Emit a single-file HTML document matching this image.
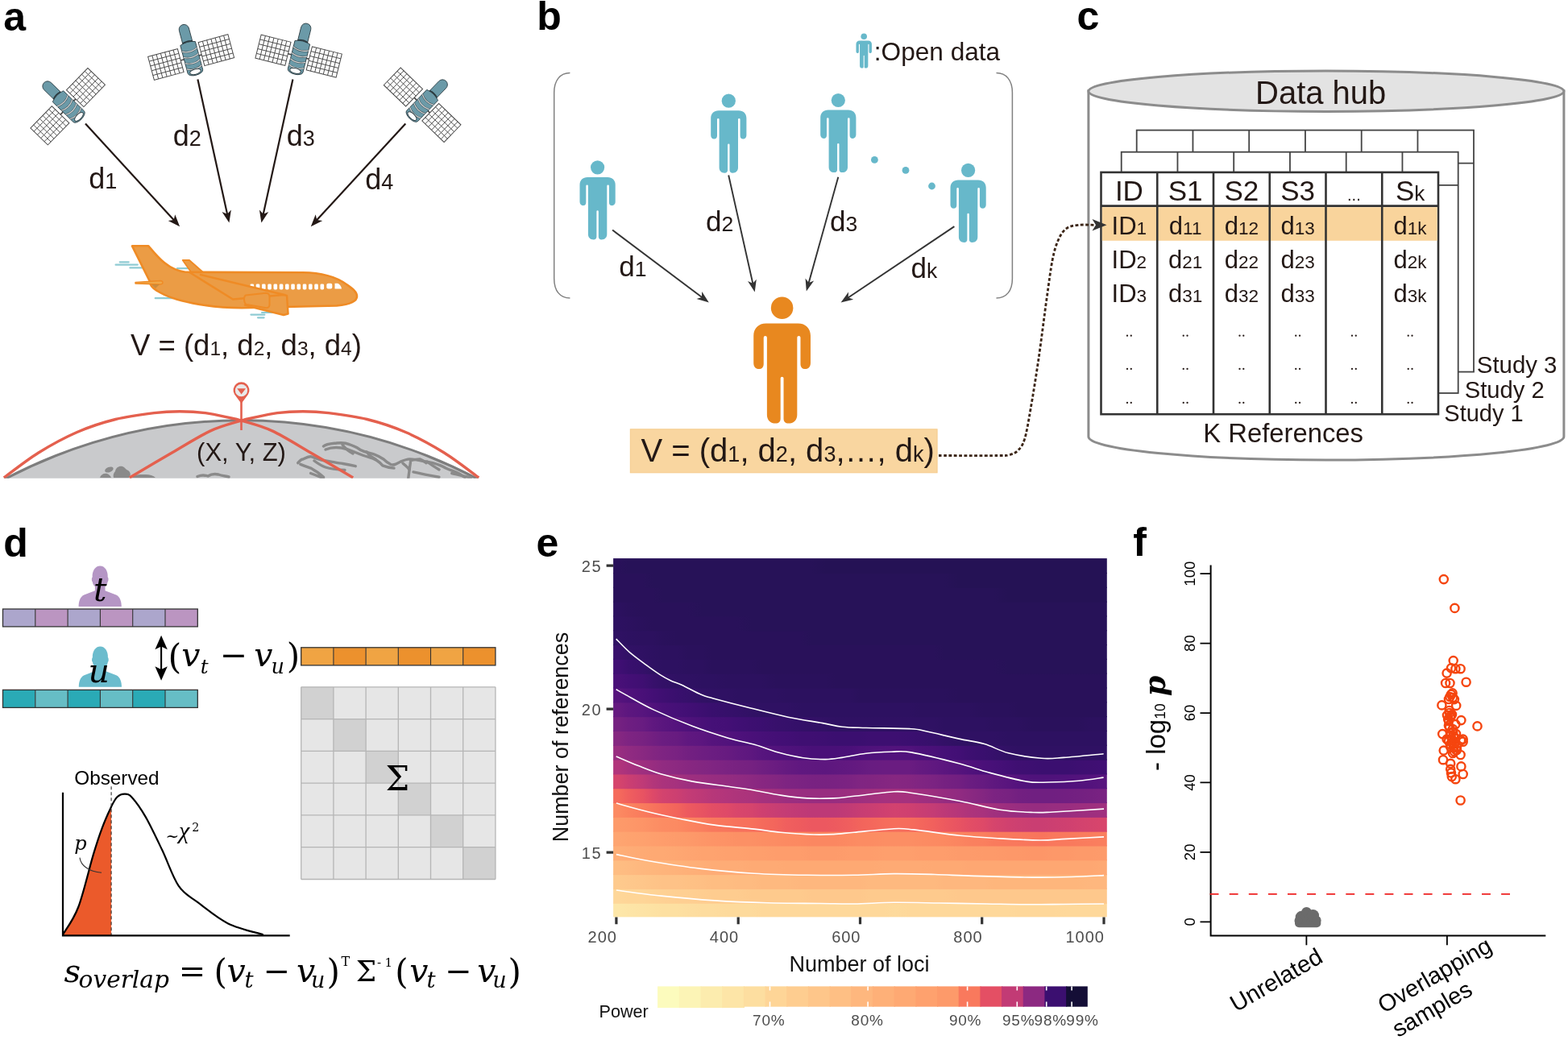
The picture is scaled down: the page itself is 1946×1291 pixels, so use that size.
<!DOCTYPE html>
<html><head><meta charset="utf-8"><title>Figure</title>
<style>html,body{margin:0;padding:0;background:#fff;}body{width:1946px;height:1291px;overflow:hidden;}svg{display:block;}</style>
</head><body>
<svg width="1946" height="1291" viewBox="0 0 1946 1291">
<defs>
<g id="sat"><line x1="-16" y1="0.5" x2="15" y2="0.5" stroke="#444" stroke-width="1.6"/><rect x="-52" y="-14.5" width="38" height="30" fill="#fff" stroke="#4a4a4a" stroke-width="1"/><path d="M-46.57,-14.5V15.5M-41.14,-14.5V15.5M-35.71,-14.5V15.5M-30.29,-14.5V15.5M-24.86,-14.5V15.5M-19.43,-14.5V15.5M-52,-8.5H-14M-52,-2.5H-14M-52,3.5H-14M-52,9.5H-14" stroke="#4a4a4a" stroke-width="0.9" fill="none"/><rect x="13" y="-15.5" width="38" height="30" fill="#fff" stroke="#4a4a4a" stroke-width="1"/><path d="M18.43,-15.5V14.5M23.86,-15.5V14.5M29.29,-15.5V14.5M34.71,-15.5V14.5M40.14,-15.5V14.5M45.57,-15.5V14.5M13,-9.5H51M13,-3.5H51M13,2.5H51M13,8.5H51" stroke="#4a4a4a" stroke-width="0.9" fill="none"/><path d="M-6.2,-18.5 V-35.5 A6.2,6.2 0 0 1 6.2,-35.5 V-18.5 Z" fill="#6b9aa8" stroke="#34454b" stroke-width="0.9"/><path d="M-9.6,-17.5 Q0,-21 9.6,-17.5 V18.5 A9.6,4.6 0 0 1 -9.6,18.5 Z" fill="#6b9aa8" stroke="#34454b" stroke-width="0.9"/><path d="M-6.4,-19 Q0,-21.5 6.4,-19" fill="none" stroke="#2c3a3f" stroke-width="1.6"/><path d="M-9.6,-9.5 Q0,-4.5 9.6,-9.5" fill="none" stroke="#3e5056" stroke-width="2.3"/><path d="M-9.6,-9.5 Q0,-4.5 9.6,-9.5" fill="none" stroke="#d4d4d4" stroke-width="1.2"/><path d="M-9.6,-2 Q0,3 9.6,-2" fill="none" stroke="#3e5056" stroke-width="2.3"/><path d="M-9.6,-2 Q0,3 9.6,-2" fill="none" stroke="#d4d4d4" stroke-width="1.2"/><path d="M-9.6,5.5 Q0,10.5 9.6,5.5" fill="none" stroke="#3e5056" stroke-width="2.3"/><path d="M-9.6,5.5 Q0,10.5 9.6,5.5" fill="none" stroke="#d4d4d4" stroke-width="1.2"/><path d="M-9.6,13 Q0,18 9.6,13" fill="none" stroke="#3e5056" stroke-width="2.3"/><path d="M-9.6,13 Q0,18 9.6,13" fill="none" stroke="#d4d4d4" stroke-width="1.2"/><ellipse cx="0" cy="18.8" rx="7" ry="3.2" fill="#fff" stroke="#34454b" stroke-width="1"/></g>
<clipPath id="globeclip"><rect x="0" y="440" width="640" height="153.8"/></clipPath>
<g id="person"><circle cx="0" cy="8.6" r="8.6"/><path d="M-12.5,20.7 H12.5 C18.2,20.7 22.1,24.5 22.1,30.2 V51.4 C22.1,54 20.5,56 18,56 C15.7,56 14.3,54.5 14.3,52 V31.6 A1.3,1.3 0 0 0 11.7,31.6 V91.5 C11.7,95.5 9,98.2 5,98.2 C2.6,98.2 1.2,96.8 1.2,94.5 V63.2 A1.2,1.2 0 0 0 -1.2,63.2 V94.5 C-1.2,96.8 -2.6,98.2 -5,98.2 C-9,98.2 -11.7,95.5 -11.7,91.5 V31.6 A1.3,1.3 0 0 0 -14.3,31.6 V52 C-14.3,54.5 -15.7,56 -18,56 C-20.5,56 -22.1,54 -22.1,51.4 V30.2 C-22.1,24.5 -18.2,20.7 -12.5,20.7 Z"/></g>
<g id="bust"><path d="M-26.6,0 C-26.6,-6 -25,-12 -20,-14.5 L-6.3,-19.6 L-6.3,-25 C-8,-26 -9,-28 -9.5,-31 C-10.6,-31.5 -10.6,-36 -9.5,-36.5 C-10,-44 -6,-50.3 0,-50.3 C6,-50.3 10,-44 9.5,-36.5 C10.6,-36 10.6,-31.5 9.5,-31 C9,-28 8,-26 6.3,-25 L6.3,-19.6 L20,-14.5 C25,-12 26.6,-6 26.6,0 Z"/></g>
<linearGradient id="hg0" gradientUnits="objectBoundingBox" x1="0" y1="0" x2="1" y2="0"><stop offset="0.01" stop-color="#fde7a9"/><stop offset="0.03" stop-color="#fde5a7"/><stop offset="0.06" stop-color="#fde3a5"/><stop offset="0.08" stop-color="#fde2a3"/><stop offset="0.1" stop-color="#fde0a1"/><stop offset="0.13" stop-color="#fde0a1"/><stop offset="0.15" stop-color="#fddea0"/><stop offset="0.18" stop-color="#fddc9e"/><stop offset="0.2" stop-color="#fddc9e"/><stop offset="0.23" stop-color="#fdda9c"/><stop offset="0.25" stop-color="#fdda9c"/><stop offset="0.28" stop-color="#fdda9c"/><stop offset="0.3" stop-color="#fed89a"/><stop offset="0.33" stop-color="#fed89a"/><stop offset="0.35" stop-color="#fed89a"/><stop offset="0.38" stop-color="#fed89a"/><stop offset="0.4" stop-color="#fed89a"/><stop offset="0.43" stop-color="#fed89a"/><stop offset="0.45" stop-color="#fed89a"/><stop offset="0.48" stop-color="#fed89a"/><stop offset="0.5" stop-color="#fed89a"/><stop offset="0.52" stop-color="#fed89a"/><stop offset="0.55" stop-color="#fed89a"/><stop offset="0.57" stop-color="#fdda9c"/><stop offset="0.6" stop-color="#fed89a"/><stop offset="0.62" stop-color="#fed89a"/><stop offset="0.65" stop-color="#fed89a"/><stop offset="0.67" stop-color="#fed89a"/><stop offset="0.7" stop-color="#fed89a"/><stop offset="0.72" stop-color="#fed89a"/><stop offset="0.75" stop-color="#fed89a"/><stop offset="0.77" stop-color="#fed89a"/><stop offset="0.8" stop-color="#fed89a"/><stop offset="0.82" stop-color="#fed799"/><stop offset="0.85" stop-color="#fed799"/><stop offset="0.87" stop-color="#fed799"/><stop offset="0.89" stop-color="#fed799"/><stop offset="0.92" stop-color="#fed89a"/><stop offset="0.94" stop-color="#fed89a"/><stop offset="0.97" stop-color="#fed89a"/><stop offset="0.99" stop-color="#fed89a"/></linearGradient>
<linearGradient id="hg1" gradientUnits="objectBoundingBox" x1="0" y1="0" x2="1" y2="0"><stop offset="0.01" stop-color="#fed799"/><stop offset="0.03" stop-color="#fed597"/><stop offset="0.06" stop-color="#fed597"/><stop offset="0.08" stop-color="#fed395"/><stop offset="0.1" stop-color="#fed194"/><stop offset="0.13" stop-color="#fecf92"/><stop offset="0.15" stop-color="#fecf92"/><stop offset="0.18" stop-color="#fecd90"/><stop offset="0.2" stop-color="#fecc8f"/><stop offset="0.23" stop-color="#fecc8f"/><stop offset="0.25" stop-color="#fecc8f"/><stop offset="0.28" stop-color="#feca8d"/><stop offset="0.3" stop-color="#feca8d"/><stop offset="0.33" stop-color="#feca8d"/><stop offset="0.35" stop-color="#feca8d"/><stop offset="0.38" stop-color="#feca8d"/><stop offset="0.4" stop-color="#fec88c"/><stop offset="0.43" stop-color="#fec88c"/><stop offset="0.45" stop-color="#fec88c"/><stop offset="0.48" stop-color="#fec88c"/><stop offset="0.5" stop-color="#fec88c"/><stop offset="0.52" stop-color="#feca8d"/><stop offset="0.55" stop-color="#feca8d"/><stop offset="0.57" stop-color="#feca8d"/><stop offset="0.6" stop-color="#feca8d"/><stop offset="0.62" stop-color="#feca8d"/><stop offset="0.65" stop-color="#feca8d"/><stop offset="0.67" stop-color="#feca8d"/><stop offset="0.7" stop-color="#fec88c"/><stop offset="0.72" stop-color="#fec88c"/><stop offset="0.75" stop-color="#fec88c"/><stop offset="0.77" stop-color="#fec88c"/><stop offset="0.8" stop-color="#fec88c"/><stop offset="0.82" stop-color="#fec88c"/><stop offset="0.85" stop-color="#fec88c"/><stop offset="0.87" stop-color="#fec88c"/><stop offset="0.89" stop-color="#fec88c"/><stop offset="0.92" stop-color="#fec88c"/><stop offset="0.94" stop-color="#fec88c"/><stop offset="0.97" stop-color="#fec88c"/><stop offset="0.99" stop-color="#fec88c"/></linearGradient>
<linearGradient id="hg2" gradientUnits="objectBoundingBox" x1="0" y1="0" x2="1" y2="0"><stop offset="0.01" stop-color="#feca8d"/><stop offset="0.03" stop-color="#fec88c"/><stop offset="0.06" stop-color="#fec68a"/><stop offset="0.08" stop-color="#fec488"/><stop offset="0.1" stop-color="#fec287"/><stop offset="0.13" stop-color="#fec287"/><stop offset="0.15" stop-color="#fec185"/><stop offset="0.18" stop-color="#febf84"/><stop offset="0.2" stop-color="#febd82"/><stop offset="0.23" stop-color="#febd82"/><stop offset="0.25" stop-color="#febb81"/><stop offset="0.28" stop-color="#febb81"/><stop offset="0.3" stop-color="#feb97f"/><stop offset="0.33" stop-color="#feb97f"/><stop offset="0.35" stop-color="#feb97f"/><stop offset="0.38" stop-color="#feb77e"/><stop offset="0.4" stop-color="#feb77e"/><stop offset="0.43" stop-color="#feb77e"/><stop offset="0.45" stop-color="#feb77e"/><stop offset="0.48" stop-color="#feb77e"/><stop offset="0.5" stop-color="#feb77e"/><stop offset="0.52" stop-color="#feb97f"/><stop offset="0.55" stop-color="#feb97f"/><stop offset="0.57" stop-color="#feb97f"/><stop offset="0.6" stop-color="#feb97f"/><stop offset="0.62" stop-color="#feb97f"/><stop offset="0.65" stop-color="#feb97f"/><stop offset="0.67" stop-color="#feb77e"/><stop offset="0.7" stop-color="#feb77e"/><stop offset="0.72" stop-color="#feb77e"/><stop offset="0.75" stop-color="#feb77e"/><stop offset="0.77" stop-color="#feb67c"/><stop offset="0.8" stop-color="#feb67c"/><stop offset="0.82" stop-color="#feb67c"/><stop offset="0.85" stop-color="#feb67c"/><stop offset="0.87" stop-color="#feb67c"/><stop offset="0.89" stop-color="#feb67c"/><stop offset="0.92" stop-color="#feb67c"/><stop offset="0.94" stop-color="#feb67c"/><stop offset="0.97" stop-color="#feb77e"/><stop offset="0.99" stop-color="#feb77e"/></linearGradient>
<linearGradient id="hg3" gradientUnits="objectBoundingBox" x1="0" y1="0" x2="1" y2="0"><stop offset="0.01" stop-color="#febd82"/><stop offset="0.03" stop-color="#febb81"/><stop offset="0.06" stop-color="#feb77e"/><stop offset="0.08" stop-color="#feb67c"/><stop offset="0.1" stop-color="#feb47b"/><stop offset="0.13" stop-color="#feb27a"/><stop offset="0.15" stop-color="#feb078"/><stop offset="0.18" stop-color="#feae77"/><stop offset="0.2" stop-color="#feac76"/><stop offset="0.23" stop-color="#feac76"/><stop offset="0.25" stop-color="#feac76"/><stop offset="0.28" stop-color="#feaa74"/><stop offset="0.3" stop-color="#feaa74"/><stop offset="0.33" stop-color="#feaa74"/><stop offset="0.35" stop-color="#fea973"/><stop offset="0.38" stop-color="#fea973"/><stop offset="0.4" stop-color="#fea973"/><stop offset="0.43" stop-color="#fea973"/><stop offset="0.45" stop-color="#fea973"/><stop offset="0.48" stop-color="#fea973"/><stop offset="0.5" stop-color="#fea973"/><stop offset="0.52" stop-color="#fea973"/><stop offset="0.55" stop-color="#feaa74"/><stop offset="0.57" stop-color="#feaa74"/><stop offset="0.6" stop-color="#feaa74"/><stop offset="0.62" stop-color="#feaa74"/><stop offset="0.65" stop-color="#fea973"/><stop offset="0.67" stop-color="#fea973"/><stop offset="0.7" stop-color="#fea973"/><stop offset="0.72" stop-color="#fea772"/><stop offset="0.75" stop-color="#fea772"/><stop offset="0.77" stop-color="#fea772"/><stop offset="0.8" stop-color="#fea772"/><stop offset="0.82" stop-color="#fea772"/><stop offset="0.85" stop-color="#fea772"/><stop offset="0.87" stop-color="#fea772"/><stop offset="0.89" stop-color="#fea772"/><stop offset="0.92" stop-color="#fea772"/><stop offset="0.94" stop-color="#fea772"/><stop offset="0.97" stop-color="#fea772"/><stop offset="0.99" stop-color="#fea973"/></linearGradient>
<linearGradient id="hg4" gradientUnits="objectBoundingBox" x1="0" y1="0" x2="1" y2="0"><stop offset="0.01" stop-color="#feae77"/><stop offset="0.03" stop-color="#feac76"/><stop offset="0.06" stop-color="#feaa74"/><stop offset="0.08" stop-color="#fea973"/><stop offset="0.1" stop-color="#fea973"/><stop offset="0.13" stop-color="#fea772"/><stop offset="0.15" stop-color="#fea571"/><stop offset="0.18" stop-color="#fea36f"/><stop offset="0.2" stop-color="#fea36f"/><stop offset="0.23" stop-color="#fea16e"/><stop offset="0.25" stop-color="#fea16e"/><stop offset="0.28" stop-color="#fe9f6d"/><stop offset="0.3" stop-color="#fe9f6d"/><stop offset="0.33" stop-color="#fe9d6c"/><stop offset="0.35" stop-color="#fe9d6c"/><stop offset="0.38" stop-color="#fe9d6c"/><stop offset="0.4" stop-color="#fd9b6b"/><stop offset="0.43" stop-color="#fd9b6b"/><stop offset="0.45" stop-color="#fd9b6b"/><stop offset="0.48" stop-color="#fe9d6c"/><stop offset="0.5" stop-color="#fe9d6c"/><stop offset="0.52" stop-color="#fe9d6c"/><stop offset="0.55" stop-color="#fe9f6d"/><stop offset="0.57" stop-color="#fe9f6d"/><stop offset="0.6" stop-color="#fe9f6d"/><stop offset="0.62" stop-color="#fe9d6c"/><stop offset="0.65" stop-color="#fe9d6c"/><stop offset="0.67" stop-color="#fe9d6c"/><stop offset="0.7" stop-color="#fd9b6b"/><stop offset="0.72" stop-color="#fd9b6b"/><stop offset="0.75" stop-color="#fd9a6a"/><stop offset="0.77" stop-color="#fd9a6a"/><stop offset="0.8" stop-color="#fd9869"/><stop offset="0.82" stop-color="#fd9869"/><stop offset="0.85" stop-color="#fd9668"/><stop offset="0.87" stop-color="#fd9668"/><stop offset="0.89" stop-color="#fd9869"/><stop offset="0.92" stop-color="#fd9869"/><stop offset="0.94" stop-color="#fd9a6a"/><stop offset="0.97" stop-color="#fd9a6a"/><stop offset="0.99" stop-color="#fd9b6b"/></linearGradient>
<linearGradient id="hg5" gradientUnits="objectBoundingBox" x1="0" y1="0" x2="1" y2="0"><stop offset="0.01" stop-color="#fea571"/><stop offset="0.03" stop-color="#fea36f"/><stop offset="0.06" stop-color="#fea16e"/><stop offset="0.08" stop-color="#fe9f6d"/><stop offset="0.1" stop-color="#fe9d6c"/><stop offset="0.13" stop-color="#fd9b6b"/><stop offset="0.15" stop-color="#fd9a6a"/><stop offset="0.18" stop-color="#fd9668"/><stop offset="0.2" stop-color="#fd9467"/><stop offset="0.23" stop-color="#fd9266"/><stop offset="0.25" stop-color="#fc9065"/><stop offset="0.28" stop-color="#fc9065"/><stop offset="0.3" stop-color="#fc8e64"/><stop offset="0.33" stop-color="#fc8c63"/><stop offset="0.35" stop-color="#fc8a62"/><stop offset="0.38" stop-color="#fc8961"/><stop offset="0.4" stop-color="#fb8761"/><stop offset="0.43" stop-color="#fb8761"/><stop offset="0.45" stop-color="#fb8761"/><stop offset="0.48" stop-color="#fc8a62"/><stop offset="0.5" stop-color="#fc8c63"/><stop offset="0.52" stop-color="#fc8c63"/><stop offset="0.55" stop-color="#fc8e64"/><stop offset="0.57" stop-color="#fc8e64"/><stop offset="0.6" stop-color="#fc8e64"/><stop offset="0.62" stop-color="#fc8c63"/><stop offset="0.65" stop-color="#fc8a62"/><stop offset="0.67" stop-color="#fc8961"/><stop offset="0.7" stop-color="#fb8560"/><stop offset="0.72" stop-color="#fa815f"/><stop offset="0.75" stop-color="#fa7f5e"/><stop offset="0.77" stop-color="#f97b5d"/><stop offset="0.8" stop-color="#f9795d"/><stop offset="0.82" stop-color="#f9785d"/><stop offset="0.85" stop-color="#f8765c"/><stop offset="0.87" stop-color="#f8745c"/><stop offset="0.89" stop-color="#f9785d"/><stop offset="0.92" stop-color="#f9795d"/><stop offset="0.94" stop-color="#f97b5d"/><stop offset="0.97" stop-color="#fa7d5e"/><stop offset="0.99" stop-color="#fa7f5e"/></linearGradient>
<linearGradient id="hg6" gradientUnits="objectBoundingBox" x1="0" y1="0" x2="1" y2="0"><stop offset="0.01" stop-color="#fd9a6a"/><stop offset="0.03" stop-color="#fd9869"/><stop offset="0.06" stop-color="#fd9467"/><stop offset="0.08" stop-color="#fc9065"/><stop offset="0.1" stop-color="#fc8c63"/><stop offset="0.13" stop-color="#fc8a62"/><stop offset="0.15" stop-color="#fb8560"/><stop offset="0.18" stop-color="#fa7f5e"/><stop offset="0.2" stop-color="#f9795d"/><stop offset="0.23" stop-color="#f8765c"/><stop offset="0.25" stop-color="#f7725c"/><stop offset="0.28" stop-color="#f7705c"/><stop offset="0.3" stop-color="#f56b5c"/><stop offset="0.33" stop-color="#f3655c"/><stop offset="0.35" stop-color="#f05f5e"/><stop offset="0.38" stop-color="#ee5b5e"/><stop offset="0.4" stop-color="#ec5860"/><stop offset="0.43" stop-color="#ec5860"/><stop offset="0.45" stop-color="#ed5a5f"/><stop offset="0.48" stop-color="#f05f5e"/><stop offset="0.5" stop-color="#f2645c"/><stop offset="0.52" stop-color="#f4675c"/><stop offset="0.55" stop-color="#f66c5c"/><stop offset="0.57" stop-color="#f66e5c"/><stop offset="0.6" stop-color="#f66c5c"/><stop offset="0.62" stop-color="#f4675c"/><stop offset="0.65" stop-color="#f1605d"/><stop offset="0.67" stop-color="#ed5a5f"/><stop offset="0.7" stop-color="#e85362"/><stop offset="0.72" stop-color="#e34e65"/><stop offset="0.75" stop-color="#de4968"/><stop offset="0.77" stop-color="#d6456c"/><stop offset="0.8" stop-color="#d0416f"/><stop offset="0.82" stop-color="#cd4071"/><stop offset="0.85" stop-color="#ca3e72"/><stop offset="0.87" stop-color="#ca3e72"/><stop offset="0.89" stop-color="#cc3f71"/><stop offset="0.92" stop-color="#cf4070"/><stop offset="0.94" stop-color="#d2426f"/><stop offset="0.97" stop-color="#d5446d"/><stop offset="0.99" stop-color="#d8456c"/></linearGradient>
<linearGradient id="hg7" gradientUnits="objectBoundingBox" x1="0" y1="0" x2="1" y2="0"><stop offset="0.01" stop-color="#fc8a62"/><stop offset="0.03" stop-color="#fb835f"/><stop offset="0.06" stop-color="#f97b5d"/><stop offset="0.08" stop-color="#f8745c"/><stop offset="0.1" stop-color="#f66c5c"/><stop offset="0.13" stop-color="#f2645c"/><stop offset="0.15" stop-color="#ed5a5f"/><stop offset="0.18" stop-color="#e85362"/><stop offset="0.2" stop-color="#e34e65"/><stop offset="0.23" stop-color="#df4a68"/><stop offset="0.25" stop-color="#d9466b"/><stop offset="0.28" stop-color="#d5446d"/><stop offset="0.3" stop-color="#cf4070"/><stop offset="0.33" stop-color="#c83e73"/><stop offset="0.35" stop-color="#c43c75"/><stop offset="0.38" stop-color="#c03a76"/><stop offset="0.4" stop-color="#bd3977"/><stop offset="0.43" stop-color="#bd3977"/><stop offset="0.45" stop-color="#bd3977"/><stop offset="0.48" stop-color="#c23b75"/><stop offset="0.5" stop-color="#c73d73"/><stop offset="0.52" stop-color="#ca3e72"/><stop offset="0.55" stop-color="#cf4070"/><stop offset="0.57" stop-color="#d2426f"/><stop offset="0.6" stop-color="#cf4070"/><stop offset="0.62" stop-color="#ca3e72"/><stop offset="0.65" stop-color="#c43c75"/><stop offset="0.67" stop-color="#bd3977"/><stop offset="0.7" stop-color="#b5367a"/><stop offset="0.72" stop-color="#ae347b"/><stop offset="0.75" stop-color="#a8327d"/><stop offset="0.77" stop-color="#a1307e"/><stop offset="0.8" stop-color="#9c2e7f"/><stop offset="0.82" stop-color="#992d80"/><stop offset="0.85" stop-color="#962c80"/><stop offset="0.87" stop-color="#962c80"/><stop offset="0.89" stop-color="#982d80"/><stop offset="0.92" stop-color="#992d80"/><stop offset="0.94" stop-color="#9c2e7f"/><stop offset="0.97" stop-color="#9e2f7f"/><stop offset="0.99" stop-color="#a02f7f"/></linearGradient>
<linearGradient id="hg8" gradientUnits="objectBoundingBox" x1="0" y1="0" x2="1" y2="0"><stop offset="0.01" stop-color="#f56b5c"/><stop offset="0.03" stop-color="#f05f5e"/><stop offset="0.06" stop-color="#e85362"/><stop offset="0.08" stop-color="#de4968"/><stop offset="0.1" stop-color="#d3436e"/><stop offset="0.13" stop-color="#cc3f71"/><stop offset="0.15" stop-color="#c43c75"/><stop offset="0.18" stop-color="#bd3977"/><stop offset="0.2" stop-color="#b73779"/><stop offset="0.23" stop-color="#b2357b"/><stop offset="0.25" stop-color="#ae347b"/><stop offset="0.28" stop-color="#ab337c"/><stop offset="0.3" stop-color="#a6317d"/><stop offset="0.33" stop-color="#a1307e"/><stop offset="0.35" stop-color="#9c2e7f"/><stop offset="0.38" stop-color="#992d80"/><stop offset="0.4" stop-color="#982d80"/><stop offset="0.43" stop-color="#982d80"/><stop offset="0.45" stop-color="#982d80"/><stop offset="0.48" stop-color="#9b2e7f"/><stop offset="0.5" stop-color="#9e2f7f"/><stop offset="0.52" stop-color="#a1307e"/><stop offset="0.55" stop-color="#a5317e"/><stop offset="0.57" stop-color="#a6317d"/><stop offset="0.6" stop-color="#a5317e"/><stop offset="0.62" stop-color="#a02f7f"/><stop offset="0.65" stop-color="#9b2e7f"/><stop offset="0.67" stop-color="#962c80"/><stop offset="0.7" stop-color="#912b81"/><stop offset="0.72" stop-color="#8b2981"/><stop offset="0.75" stop-color="#832681"/><stop offset="0.77" stop-color="#7c2382"/><stop offset="0.8" stop-color="#782281"/><stop offset="0.82" stop-color="#732081"/><stop offset="0.85" stop-color="#701f81"/><stop offset="0.87" stop-color="#701f81"/><stop offset="0.89" stop-color="#701f81"/><stop offset="0.92" stop-color="#721f81"/><stop offset="0.94" stop-color="#732081"/><stop offset="0.97" stop-color="#762181"/><stop offset="0.99" stop-color="#792282"/></linearGradient>
<linearGradient id="hg9" gradientUnits="objectBoundingBox" x1="0" y1="0" x2="1" y2="0"><stop offset="0.01" stop-color="#d6456c"/><stop offset="0.03" stop-color="#cc3f71"/><stop offset="0.06" stop-color="#bf3a77"/><stop offset="0.08" stop-color="#b3367a"/><stop offset="0.1" stop-color="#ab337c"/><stop offset="0.13" stop-color="#a5317e"/><stop offset="0.15" stop-color="#9e2f7f"/><stop offset="0.18" stop-color="#9b2e7f"/><stop offset="0.2" stop-color="#982d80"/><stop offset="0.23" stop-color="#942c80"/><stop offset="0.25" stop-color="#912b81"/><stop offset="0.28" stop-color="#8c2981"/><stop offset="0.3" stop-color="#882781"/><stop offset="0.33" stop-color="#832681"/><stop offset="0.35" stop-color="#7e2482"/><stop offset="0.38" stop-color="#7b2382"/><stop offset="0.4" stop-color="#792282"/><stop offset="0.43" stop-color="#782281"/><stop offset="0.45" stop-color="#792282"/><stop offset="0.48" stop-color="#7c2382"/><stop offset="0.5" stop-color="#802582"/><stop offset="0.52" stop-color="#812581"/><stop offset="0.55" stop-color="#842681"/><stop offset="0.57" stop-color="#862781"/><stop offset="0.6" stop-color="#842681"/><stop offset="0.62" stop-color="#802582"/><stop offset="0.65" stop-color="#7b2382"/><stop offset="0.67" stop-color="#762181"/><stop offset="0.7" stop-color="#721f81"/><stop offset="0.72" stop-color="#6b1d81"/><stop offset="0.75" stop-color="#651a80"/><stop offset="0.77" stop-color="#5f187f"/><stop offset="0.8" stop-color="#59157e"/><stop offset="0.82" stop-color="#54137d"/><stop offset="0.85" stop-color="#4f127b"/><stop offset="0.87" stop-color="#4f127b"/><stop offset="0.89" stop-color="#4f127b"/><stop offset="0.92" stop-color="#51127c"/><stop offset="0.94" stop-color="#52137c"/><stop offset="0.97" stop-color="#54137d"/><stop offset="0.99" stop-color="#57157e"/></linearGradient>
<linearGradient id="hg10" gradientUnits="objectBoundingBox" x1="0" y1="0" x2="1" y2="0"><stop offset="0.01" stop-color="#b2357b"/><stop offset="0.03" stop-color="#a8327d"/><stop offset="0.06" stop-color="#9e2f7f"/><stop offset="0.08" stop-color="#982d80"/><stop offset="0.1" stop-color="#912b81"/><stop offset="0.13" stop-color="#8c2981"/><stop offset="0.15" stop-color="#882781"/><stop offset="0.18" stop-color="#832681"/><stop offset="0.2" stop-color="#802582"/><stop offset="0.23" stop-color="#7b2382"/><stop offset="0.25" stop-color="#782281"/><stop offset="0.28" stop-color="#752181"/><stop offset="0.3" stop-color="#701f81"/><stop offset="0.33" stop-color="#6a1c81"/><stop offset="0.35" stop-color="#651a80"/><stop offset="0.38" stop-color="#601880"/><stop offset="0.4" stop-color="#5f187f"/><stop offset="0.43" stop-color="#5d177f"/><stop offset="0.45" stop-color="#5f187f"/><stop offset="0.48" stop-color="#621980"/><stop offset="0.5" stop-color="#651a80"/><stop offset="0.52" stop-color="#681c81"/><stop offset="0.55" stop-color="#6a1c81"/><stop offset="0.57" stop-color="#6a1c81"/><stop offset="0.6" stop-color="#6a1c81"/><stop offset="0.62" stop-color="#651a80"/><stop offset="0.65" stop-color="#601880"/><stop offset="0.67" stop-color="#5c167f"/><stop offset="0.7" stop-color="#56147d"/><stop offset="0.72" stop-color="#51127c"/><stop offset="0.75" stop-color="#4a1079"/><stop offset="0.77" stop-color="#471078"/><stop offset="0.8" stop-color="#420f75"/><stop offset="0.82" stop-color="#3f0f72"/><stop offset="0.85" stop-color="#3d0f71"/><stop offset="0.87" stop-color="#3b0f70"/><stop offset="0.89" stop-color="#3b0f70"/><stop offset="0.92" stop-color="#3b0f70"/><stop offset="0.94" stop-color="#3d0f71"/><stop offset="0.97" stop-color="#3f0f72"/><stop offset="0.99" stop-color="#400f74"/></linearGradient>
<linearGradient id="hg11" gradientUnits="objectBoundingBox" x1="0" y1="0" x2="1" y2="0"><stop offset="0.01" stop-color="#992d80"/><stop offset="0.03" stop-color="#912b81"/><stop offset="0.06" stop-color="#892881"/><stop offset="0.08" stop-color="#832681"/><stop offset="0.1" stop-color="#7e2482"/><stop offset="0.13" stop-color="#792282"/><stop offset="0.15" stop-color="#732081"/><stop offset="0.18" stop-color="#6e1e81"/><stop offset="0.2" stop-color="#6b1d81"/><stop offset="0.23" stop-color="#671b80"/><stop offset="0.25" stop-color="#621980"/><stop offset="0.28" stop-color="#5d177f"/><stop offset="0.3" stop-color="#57157e"/><stop offset="0.33" stop-color="#52137c"/><stop offset="0.35" stop-color="#4f127b"/><stop offset="0.38" stop-color="#4c117a"/><stop offset="0.4" stop-color="#491078"/><stop offset="0.43" stop-color="#491078"/><stop offset="0.45" stop-color="#491078"/><stop offset="0.48" stop-color="#4a1079"/><stop offset="0.5" stop-color="#4e117b"/><stop offset="0.52" stop-color="#4f127b"/><stop offset="0.55" stop-color="#51127c"/><stop offset="0.57" stop-color="#52137c"/><stop offset="0.6" stop-color="#51127c"/><stop offset="0.62" stop-color="#4c117a"/><stop offset="0.65" stop-color="#491078"/><stop offset="0.67" stop-color="#451077"/><stop offset="0.7" stop-color="#420f75"/><stop offset="0.72" stop-color="#3d0f71"/><stop offset="0.75" stop-color="#390f6e"/><stop offset="0.77" stop-color="#36106b"/><stop offset="0.8" stop-color="#311165"/><stop offset="0.82" stop-color="#2f1163"/><stop offset="0.85" stop-color="#2f1163"/><stop offset="0.87" stop-color="#2f1163"/><stop offset="0.89" stop-color="#2f1163"/><stop offset="0.92" stop-color="#2f1163"/><stop offset="0.94" stop-color="#2f1163"/><stop offset="0.97" stop-color="#2f1163"/><stop offset="0.99" stop-color="#2f1163"/></linearGradient>
<linearGradient id="hg12" gradientUnits="objectBoundingBox" x1="0" y1="0" x2="1" y2="0"><stop offset="0.01" stop-color="#862781"/><stop offset="0.03" stop-color="#7e2482"/><stop offset="0.06" stop-color="#782281"/><stop offset="0.08" stop-color="#721f81"/><stop offset="0.1" stop-color="#6b1d81"/><stop offset="0.13" stop-color="#671b80"/><stop offset="0.15" stop-color="#601880"/><stop offset="0.18" stop-color="#5c167f"/><stop offset="0.2" stop-color="#56147d"/><stop offset="0.23" stop-color="#52137c"/><stop offset="0.25" stop-color="#4e117b"/><stop offset="0.28" stop-color="#4a1079"/><stop offset="0.3" stop-color="#471078"/><stop offset="0.33" stop-color="#440f76"/><stop offset="0.35" stop-color="#420f75"/><stop offset="0.38" stop-color="#3f0f72"/><stop offset="0.4" stop-color="#3f0f72"/><stop offset="0.43" stop-color="#3d0f71"/><stop offset="0.45" stop-color="#3b0f70"/><stop offset="0.48" stop-color="#3b0f70"/><stop offset="0.5" stop-color="#3b0f70"/><stop offset="0.52" stop-color="#3d0f71"/><stop offset="0.55" stop-color="#3d0f71"/><stop offset="0.57" stop-color="#3d0f71"/><stop offset="0.6" stop-color="#3b0f70"/><stop offset="0.62" stop-color="#390f6e"/><stop offset="0.65" stop-color="#36106b"/><stop offset="0.67" stop-color="#331067"/><stop offset="0.7" stop-color="#2f1163"/><stop offset="0.72" stop-color="#2f1163"/><stop offset="0.75" stop-color="#2f1163"/><stop offset="0.77" stop-color="#2f1163"/><stop offset="0.8" stop-color="#2d1161"/><stop offset="0.82" stop-color="#2d1161"/><stop offset="0.85" stop-color="#2d1161"/><stop offset="0.87" stop-color="#2d1161"/><stop offset="0.89" stop-color="#2d1161"/><stop offset="0.92" stop-color="#2d1161"/><stop offset="0.94" stop-color="#2d1161"/><stop offset="0.97" stop-color="#2d1161"/><stop offset="0.99" stop-color="#2d1161"/></linearGradient>
<linearGradient id="hg13" gradientUnits="objectBoundingBox" x1="0" y1="0" x2="1" y2="0"><stop offset="0.01" stop-color="#752181"/><stop offset="0.03" stop-color="#6e1e81"/><stop offset="0.06" stop-color="#681c81"/><stop offset="0.08" stop-color="#601880"/><stop offset="0.1" stop-color="#5a167e"/><stop offset="0.13" stop-color="#54137d"/><stop offset="0.15" stop-color="#4f127b"/><stop offset="0.18" stop-color="#491078"/><stop offset="0.2" stop-color="#451077"/><stop offset="0.23" stop-color="#440f76"/><stop offset="0.25" stop-color="#400f74"/><stop offset="0.28" stop-color="#3d0f71"/><stop offset="0.3" stop-color="#3b0f70"/><stop offset="0.33" stop-color="#38106c"/><stop offset="0.35" stop-color="#36106b"/><stop offset="0.38" stop-color="#341069"/><stop offset="0.4" stop-color="#331067"/><stop offset="0.43" stop-color="#311165"/><stop offset="0.45" stop-color="#2f1163"/><stop offset="0.48" stop-color="#2f1163"/><stop offset="0.5" stop-color="#2f1163"/><stop offset="0.52" stop-color="#2f1163"/><stop offset="0.55" stop-color="#2f1163"/><stop offset="0.57" stop-color="#2f1163"/><stop offset="0.6" stop-color="#2f1163"/><stop offset="0.62" stop-color="#2f1163"/><stop offset="0.65" stop-color="#2f1163"/><stop offset="0.67" stop-color="#2d1161"/><stop offset="0.7" stop-color="#2d1161"/><stop offset="0.72" stop-color="#2d1161"/><stop offset="0.75" stop-color="#2d1161"/><stop offset="0.77" stop-color="#2c115f"/><stop offset="0.8" stop-color="#2c115f"/><stop offset="0.82" stop-color="#2c115f"/><stop offset="0.85" stop-color="#2a115c"/><stop offset="0.87" stop-color="#2a115c"/><stop offset="0.89" stop-color="#2a115c"/><stop offset="0.92" stop-color="#2a115c"/><stop offset="0.94" stop-color="#2a115c"/><stop offset="0.97" stop-color="#2c115f"/><stop offset="0.99" stop-color="#2c115f"/></linearGradient>
<linearGradient id="hg14" gradientUnits="objectBoundingBox" x1="0" y1="0" x2="1" y2="0"><stop offset="0.01" stop-color="#651a80"/><stop offset="0.03" stop-color="#5d177f"/><stop offset="0.06" stop-color="#57157e"/><stop offset="0.08" stop-color="#51127c"/><stop offset="0.1" stop-color="#4a1079"/><stop offset="0.13" stop-color="#451077"/><stop offset="0.15" stop-color="#420f75"/><stop offset="0.18" stop-color="#3d0f71"/><stop offset="0.2" stop-color="#390f6e"/><stop offset="0.23" stop-color="#36106b"/><stop offset="0.25" stop-color="#341069"/><stop offset="0.28" stop-color="#311165"/><stop offset="0.3" stop-color="#2f1163"/><stop offset="0.33" stop-color="#2f1163"/><stop offset="0.35" stop-color="#2f1163"/><stop offset="0.38" stop-color="#2d1161"/><stop offset="0.4" stop-color="#2d1161"/><stop offset="0.43" stop-color="#2d1161"/><stop offset="0.45" stop-color="#2d1161"/><stop offset="0.48" stop-color="#2d1161"/><stop offset="0.5" stop-color="#2d1161"/><stop offset="0.52" stop-color="#2d1161"/><stop offset="0.55" stop-color="#2d1161"/><stop offset="0.57" stop-color="#2d1161"/><stop offset="0.6" stop-color="#2d1161"/><stop offset="0.62" stop-color="#2c115f"/><stop offset="0.65" stop-color="#2c115f"/><stop offset="0.67" stop-color="#2c115f"/><stop offset="0.7" stop-color="#2c115f"/><stop offset="0.72" stop-color="#2c115f"/><stop offset="0.75" stop-color="#2a115c"/><stop offset="0.77" stop-color="#2a115c"/><stop offset="0.8" stop-color="#2a115c"/><stop offset="0.82" stop-color="#29115a"/><stop offset="0.85" stop-color="#29115a"/><stop offset="0.87" stop-color="#29115a"/><stop offset="0.89" stop-color="#29115a"/><stop offset="0.92" stop-color="#29115a"/><stop offset="0.94" stop-color="#29115a"/><stop offset="0.97" stop-color="#29115a"/><stop offset="0.99" stop-color="#29115a"/></linearGradient>
<linearGradient id="hg15" gradientUnits="objectBoundingBox" x1="0" y1="0" x2="1" y2="0"><stop offset="0.01" stop-color="#56147d"/><stop offset="0.03" stop-color="#4f127b"/><stop offset="0.06" stop-color="#491078"/><stop offset="0.08" stop-color="#440f76"/><stop offset="0.1" stop-color="#3f0f72"/><stop offset="0.13" stop-color="#390f6e"/><stop offset="0.15" stop-color="#36106b"/><stop offset="0.18" stop-color="#311165"/><stop offset="0.2" stop-color="#2f1163"/><stop offset="0.23" stop-color="#2f1163"/><stop offset="0.25" stop-color="#2d1161"/><stop offset="0.28" stop-color="#2d1161"/><stop offset="0.3" stop-color="#2d1161"/><stop offset="0.33" stop-color="#2d1161"/><stop offset="0.35" stop-color="#2c115f"/><stop offset="0.38" stop-color="#2c115f"/><stop offset="0.4" stop-color="#2c115f"/><stop offset="0.43" stop-color="#2c115f"/><stop offset="0.45" stop-color="#2c115f"/><stop offset="0.48" stop-color="#2c115f"/><stop offset="0.5" stop-color="#2a115c"/><stop offset="0.52" stop-color="#2a115c"/><stop offset="0.55" stop-color="#2a115c"/><stop offset="0.57" stop-color="#2a115c"/><stop offset="0.6" stop-color="#2a115c"/><stop offset="0.62" stop-color="#2a115c"/><stop offset="0.65" stop-color="#2a115c"/><stop offset="0.67" stop-color="#2a115c"/><stop offset="0.7" stop-color="#29115a"/><stop offset="0.72" stop-color="#29115a"/><stop offset="0.75" stop-color="#29115a"/><stop offset="0.77" stop-color="#29115a"/><stop offset="0.8" stop-color="#29115a"/><stop offset="0.82" stop-color="#29115a"/><stop offset="0.85" stop-color="#29115a"/><stop offset="0.87" stop-color="#29115a"/><stop offset="0.89" stop-color="#29115a"/><stop offset="0.92" stop-color="#29115a"/><stop offset="0.94" stop-color="#29115a"/><stop offset="0.97" stop-color="#29115a"/><stop offset="0.99" stop-color="#29115a"/></linearGradient>
<linearGradient id="hg16" gradientUnits="objectBoundingBox" x1="0" y1="0" x2="1" y2="0"><stop offset="0.01" stop-color="#491078"/><stop offset="0.03" stop-color="#440f76"/><stop offset="0.06" stop-color="#3f0f72"/><stop offset="0.08" stop-color="#38106c"/><stop offset="0.1" stop-color="#331067"/><stop offset="0.13" stop-color="#2f1163"/><stop offset="0.15" stop-color="#2f1163"/><stop offset="0.18" stop-color="#2d1161"/><stop offset="0.2" stop-color="#2d1161"/><stop offset="0.23" stop-color="#2c115f"/><stop offset="0.25" stop-color="#2c115f"/><stop offset="0.28" stop-color="#2c115f"/><stop offset="0.3" stop-color="#2c115f"/><stop offset="0.33" stop-color="#2a115c"/><stop offset="0.35" stop-color="#2a115c"/><stop offset="0.38" stop-color="#2a115c"/><stop offset="0.4" stop-color="#2a115c"/><stop offset="0.43" stop-color="#2a115c"/><stop offset="0.45" stop-color="#29115a"/><stop offset="0.48" stop-color="#29115a"/><stop offset="0.5" stop-color="#29115a"/><stop offset="0.52" stop-color="#29115a"/><stop offset="0.55" stop-color="#29115a"/><stop offset="0.57" stop-color="#29115a"/><stop offset="0.6" stop-color="#29115a"/><stop offset="0.62" stop-color="#29115a"/><stop offset="0.65" stop-color="#29115a"/><stop offset="0.67" stop-color="#29115a"/><stop offset="0.7" stop-color="#29115a"/><stop offset="0.72" stop-color="#29115a"/><stop offset="0.75" stop-color="#29115a"/><stop offset="0.77" stop-color="#29115a"/><stop offset="0.8" stop-color="#29115a"/><stop offset="0.82" stop-color="#29115a"/><stop offset="0.85" stop-color="#29115a"/><stop offset="0.87" stop-color="#29115a"/><stop offset="0.89" stop-color="#29115a"/><stop offset="0.92" stop-color="#29115a"/><stop offset="0.94" stop-color="#29115a"/><stop offset="0.97" stop-color="#29115a"/><stop offset="0.99" stop-color="#29115a"/></linearGradient>
<linearGradient id="hg17" gradientUnits="objectBoundingBox" x1="0" y1="0" x2="1" y2="0"><stop offset="0.01" stop-color="#400f74"/><stop offset="0.03" stop-color="#390f6e"/><stop offset="0.06" stop-color="#341069"/><stop offset="0.08" stop-color="#2f1163"/><stop offset="0.1" stop-color="#2d1161"/><stop offset="0.13" stop-color="#2d1161"/><stop offset="0.15" stop-color="#2c115f"/><stop offset="0.18" stop-color="#2c115f"/><stop offset="0.2" stop-color="#2a115c"/><stop offset="0.23" stop-color="#2a115c"/><stop offset="0.25" stop-color="#2a115c"/><stop offset="0.28" stop-color="#2a115c"/><stop offset="0.3" stop-color="#29115a"/><stop offset="0.33" stop-color="#29115a"/><stop offset="0.35" stop-color="#29115a"/><stop offset="0.38" stop-color="#29115a"/><stop offset="0.4" stop-color="#29115a"/><stop offset="0.43" stop-color="#29115a"/><stop offset="0.45" stop-color="#29115a"/><stop offset="0.48" stop-color="#29115a"/><stop offset="0.5" stop-color="#29115a"/><stop offset="0.52" stop-color="#29115a"/><stop offset="0.55" stop-color="#29115a"/><stop offset="0.57" stop-color="#29115a"/><stop offset="0.6" stop-color="#29115a"/><stop offset="0.62" stop-color="#29115a"/><stop offset="0.65" stop-color="#29115a"/><stop offset="0.67" stop-color="#29115a"/><stop offset="0.7" stop-color="#29115a"/><stop offset="0.72" stop-color="#29115a"/><stop offset="0.75" stop-color="#29115a"/><stop offset="0.77" stop-color="#29115a"/><stop offset="0.8" stop-color="#271258"/><stop offset="0.82" stop-color="#271258"/><stop offset="0.85" stop-color="#271258"/><stop offset="0.87" stop-color="#271258"/><stop offset="0.89" stop-color="#271258"/><stop offset="0.92" stop-color="#271258"/><stop offset="0.94" stop-color="#271258"/><stop offset="0.97" stop-color="#271258"/><stop offset="0.99" stop-color="#271258"/></linearGradient>
<linearGradient id="hg18" gradientUnits="objectBoundingBox" x1="0" y1="0" x2="1" y2="0"><stop offset="0.01" stop-color="#38106c"/><stop offset="0.03" stop-color="#311165"/><stop offset="0.06" stop-color="#2f1163"/><stop offset="0.08" stop-color="#2d1161"/><stop offset="0.1" stop-color="#2c115f"/><stop offset="0.13" stop-color="#2c115f"/><stop offset="0.15" stop-color="#2a115c"/><stop offset="0.18" stop-color="#2a115c"/><stop offset="0.2" stop-color="#29115a"/><stop offset="0.23" stop-color="#29115a"/><stop offset="0.25" stop-color="#29115a"/><stop offset="0.28" stop-color="#29115a"/><stop offset="0.3" stop-color="#29115a"/><stop offset="0.33" stop-color="#29115a"/><stop offset="0.35" stop-color="#29115a"/><stop offset="0.38" stop-color="#29115a"/><stop offset="0.4" stop-color="#29115a"/><stop offset="0.43" stop-color="#29115a"/><stop offset="0.45" stop-color="#29115a"/><stop offset="0.48" stop-color="#29115a"/><stop offset="0.5" stop-color="#29115a"/><stop offset="0.52" stop-color="#29115a"/><stop offset="0.55" stop-color="#29115a"/><stop offset="0.57" stop-color="#29115a"/><stop offset="0.6" stop-color="#29115a"/><stop offset="0.62" stop-color="#29115a"/><stop offset="0.65" stop-color="#29115a"/><stop offset="0.67" stop-color="#271258"/><stop offset="0.7" stop-color="#271258"/><stop offset="0.72" stop-color="#271258"/><stop offset="0.75" stop-color="#271258"/><stop offset="0.77" stop-color="#271258"/><stop offset="0.8" stop-color="#271258"/><stop offset="0.82" stop-color="#271258"/><stop offset="0.85" stop-color="#271258"/><stop offset="0.87" stop-color="#271258"/><stop offset="0.89" stop-color="#271258"/><stop offset="0.92" stop-color="#271258"/><stop offset="0.94" stop-color="#271258"/><stop offset="0.97" stop-color="#271258"/><stop offset="0.99" stop-color="#271258"/></linearGradient>
<linearGradient id="hg19" gradientUnits="objectBoundingBox" x1="0" y1="0" x2="1" y2="0"><stop offset="0.01" stop-color="#2f1163"/><stop offset="0.03" stop-color="#2d1161"/><stop offset="0.06" stop-color="#2c115f"/><stop offset="0.08" stop-color="#2c115f"/><stop offset="0.1" stop-color="#2a115c"/><stop offset="0.13" stop-color="#29115a"/><stop offset="0.15" stop-color="#29115a"/><stop offset="0.18" stop-color="#29115a"/><stop offset="0.2" stop-color="#29115a"/><stop offset="0.23" stop-color="#29115a"/><stop offset="0.25" stop-color="#29115a"/><stop offset="0.28" stop-color="#29115a"/><stop offset="0.3" stop-color="#29115a"/><stop offset="0.33" stop-color="#29115a"/><stop offset="0.35" stop-color="#29115a"/><stop offset="0.38" stop-color="#29115a"/><stop offset="0.4" stop-color="#271258"/><stop offset="0.43" stop-color="#271258"/><stop offset="0.45" stop-color="#271258"/><stop offset="0.48" stop-color="#271258"/><stop offset="0.5" stop-color="#271258"/><stop offset="0.52" stop-color="#271258"/><stop offset="0.55" stop-color="#271258"/><stop offset="0.57" stop-color="#271258"/><stop offset="0.6" stop-color="#271258"/><stop offset="0.62" stop-color="#271258"/><stop offset="0.65" stop-color="#271258"/><stop offset="0.67" stop-color="#271258"/><stop offset="0.7" stop-color="#271258"/><stop offset="0.72" stop-color="#271258"/><stop offset="0.75" stop-color="#271258"/><stop offset="0.77" stop-color="#271258"/><stop offset="0.8" stop-color="#271258"/><stop offset="0.82" stop-color="#271258"/><stop offset="0.85" stop-color="#271258"/><stop offset="0.87" stop-color="#271258"/><stop offset="0.89" stop-color="#271258"/><stop offset="0.92" stop-color="#271258"/><stop offset="0.94" stop-color="#271258"/><stop offset="0.97" stop-color="#271258"/><stop offset="0.99" stop-color="#271258"/></linearGradient>
<linearGradient id="hg20" gradientUnits="objectBoundingBox" x1="0" y1="0" x2="1" y2="0"><stop offset="0.01" stop-color="#2d1161"/><stop offset="0.03" stop-color="#2c115f"/><stop offset="0.06" stop-color="#2a115c"/><stop offset="0.08" stop-color="#29115a"/><stop offset="0.1" stop-color="#29115a"/><stop offset="0.13" stop-color="#29115a"/><stop offset="0.15" stop-color="#29115a"/><stop offset="0.18" stop-color="#29115a"/><stop offset="0.2" stop-color="#29115a"/><stop offset="0.23" stop-color="#29115a"/><stop offset="0.25" stop-color="#29115a"/><stop offset="0.28" stop-color="#271258"/><stop offset="0.3" stop-color="#271258"/><stop offset="0.33" stop-color="#271258"/><stop offset="0.35" stop-color="#271258"/><stop offset="0.38" stop-color="#271258"/><stop offset="0.4" stop-color="#271258"/><stop offset="0.43" stop-color="#271258"/><stop offset="0.45" stop-color="#271258"/><stop offset="0.48" stop-color="#271258"/><stop offset="0.5" stop-color="#271258"/><stop offset="0.52" stop-color="#271258"/><stop offset="0.55" stop-color="#271258"/><stop offset="0.57" stop-color="#271258"/><stop offset="0.6" stop-color="#271258"/><stop offset="0.62" stop-color="#271258"/><stop offset="0.65" stop-color="#271258"/><stop offset="0.67" stop-color="#271258"/><stop offset="0.7" stop-color="#271258"/><stop offset="0.72" stop-color="#271258"/><stop offset="0.75" stop-color="#271258"/><stop offset="0.77" stop-color="#271258"/><stop offset="0.8" stop-color="#271258"/><stop offset="0.82" stop-color="#271258"/><stop offset="0.85" stop-color="#271258"/><stop offset="0.87" stop-color="#271258"/><stop offset="0.89" stop-color="#271258"/><stop offset="0.92" stop-color="#271258"/><stop offset="0.94" stop-color="#271258"/><stop offset="0.97" stop-color="#271258"/><stop offset="0.99" stop-color="#271258"/></linearGradient>
<linearGradient id="hg21" gradientUnits="objectBoundingBox" x1="0" y1="0" x2="1" y2="0"><stop offset="0.01" stop-color="#2c115f"/><stop offset="0.03" stop-color="#2a115c"/><stop offset="0.06" stop-color="#29115a"/><stop offset="0.08" stop-color="#29115a"/><stop offset="0.1" stop-color="#29115a"/><stop offset="0.13" stop-color="#29115a"/><stop offset="0.15" stop-color="#29115a"/><stop offset="0.18" stop-color="#271258"/><stop offset="0.2" stop-color="#271258"/><stop offset="0.23" stop-color="#271258"/><stop offset="0.25" stop-color="#271258"/><stop offset="0.28" stop-color="#271258"/><stop offset="0.3" stop-color="#271258"/><stop offset="0.33" stop-color="#271258"/><stop offset="0.35" stop-color="#271258"/><stop offset="0.38" stop-color="#271258"/><stop offset="0.4" stop-color="#271258"/><stop offset="0.43" stop-color="#271258"/><stop offset="0.45" stop-color="#271258"/><stop offset="0.48" stop-color="#271258"/><stop offset="0.5" stop-color="#271258"/><stop offset="0.52" stop-color="#271258"/><stop offset="0.55" stop-color="#271258"/><stop offset="0.57" stop-color="#271258"/><stop offset="0.6" stop-color="#271258"/><stop offset="0.62" stop-color="#271258"/><stop offset="0.65" stop-color="#271258"/><stop offset="0.67" stop-color="#271258"/><stop offset="0.7" stop-color="#271258"/><stop offset="0.72" stop-color="#271258"/><stop offset="0.75" stop-color="#271258"/><stop offset="0.77" stop-color="#271258"/><stop offset="0.8" stop-color="#271258"/><stop offset="0.82" stop-color="#271258"/><stop offset="0.85" stop-color="#271258"/><stop offset="0.87" stop-color="#271258"/><stop offset="0.89" stop-color="#271258"/><stop offset="0.92" stop-color="#271258"/><stop offset="0.94" stop-color="#271258"/><stop offset="0.97" stop-color="#271258"/><stop offset="0.99" stop-color="#271258"/></linearGradient>
<linearGradient id="hg22" gradientUnits="objectBoundingBox" x1="0" y1="0" x2="1" y2="0"><stop offset="0.01" stop-color="#29115a"/><stop offset="0.03" stop-color="#29115a"/><stop offset="0.06" stop-color="#29115a"/><stop offset="0.08" stop-color="#29115a"/><stop offset="0.1" stop-color="#271258"/><stop offset="0.13" stop-color="#271258"/><stop offset="0.15" stop-color="#271258"/><stop offset="0.18" stop-color="#271258"/><stop offset="0.2" stop-color="#271258"/><stop offset="0.23" stop-color="#271258"/><stop offset="0.25" stop-color="#271258"/><stop offset="0.28" stop-color="#271258"/><stop offset="0.3" stop-color="#271258"/><stop offset="0.33" stop-color="#271258"/><stop offset="0.35" stop-color="#271258"/><stop offset="0.38" stop-color="#271258"/><stop offset="0.4" stop-color="#271258"/><stop offset="0.43" stop-color="#271258"/><stop offset="0.45" stop-color="#271258"/><stop offset="0.48" stop-color="#271258"/><stop offset="0.5" stop-color="#271258"/><stop offset="0.52" stop-color="#271258"/><stop offset="0.55" stop-color="#271258"/><stop offset="0.57" stop-color="#271258"/><stop offset="0.6" stop-color="#271258"/><stop offset="0.62" stop-color="#271258"/><stop offset="0.65" stop-color="#271258"/><stop offset="0.67" stop-color="#271258"/><stop offset="0.7" stop-color="#271258"/><stop offset="0.72" stop-color="#271258"/><stop offset="0.75" stop-color="#271258"/><stop offset="0.77" stop-color="#271258"/><stop offset="0.8" stop-color="#251255"/><stop offset="0.82" stop-color="#251255"/><stop offset="0.85" stop-color="#251255"/><stop offset="0.87" stop-color="#251255"/><stop offset="0.89" stop-color="#251255"/><stop offset="0.92" stop-color="#251255"/><stop offset="0.94" stop-color="#251255"/><stop offset="0.97" stop-color="#251255"/><stop offset="0.99" stop-color="#251255"/></linearGradient>
<linearGradient id="hg23" gradientUnits="objectBoundingBox" x1="0" y1="0" x2="1" y2="0"><stop offset="0.01" stop-color="#29115a"/><stop offset="0.03" stop-color="#29115a"/><stop offset="0.06" stop-color="#29115a"/><stop offset="0.08" stop-color="#271258"/><stop offset="0.1" stop-color="#271258"/><stop offset="0.13" stop-color="#271258"/><stop offset="0.15" stop-color="#271258"/><stop offset="0.18" stop-color="#271258"/><stop offset="0.2" stop-color="#271258"/><stop offset="0.23" stop-color="#271258"/><stop offset="0.25" stop-color="#271258"/><stop offset="0.28" stop-color="#271258"/><stop offset="0.3" stop-color="#271258"/><stop offset="0.33" stop-color="#271258"/><stop offset="0.35" stop-color="#271258"/><stop offset="0.38" stop-color="#271258"/><stop offset="0.4" stop-color="#271258"/><stop offset="0.43" stop-color="#271258"/><stop offset="0.45" stop-color="#271258"/><stop offset="0.48" stop-color="#271258"/><stop offset="0.5" stop-color="#271258"/><stop offset="0.52" stop-color="#271258"/><stop offset="0.55" stop-color="#271258"/><stop offset="0.57" stop-color="#271258"/><stop offset="0.6" stop-color="#271258"/><stop offset="0.62" stop-color="#271258"/><stop offset="0.65" stop-color="#271258"/><stop offset="0.67" stop-color="#271258"/><stop offset="0.7" stop-color="#251255"/><stop offset="0.72" stop-color="#251255"/><stop offset="0.75" stop-color="#251255"/><stop offset="0.77" stop-color="#251255"/><stop offset="0.8" stop-color="#251255"/><stop offset="0.82" stop-color="#251255"/><stop offset="0.85" stop-color="#251255"/><stop offset="0.87" stop-color="#251255"/><stop offset="0.89" stop-color="#251255"/><stop offset="0.92" stop-color="#251255"/><stop offset="0.94" stop-color="#251255"/><stop offset="0.97" stop-color="#251255"/><stop offset="0.99" stop-color="#251255"/></linearGradient>
<linearGradient id="hg24" gradientUnits="objectBoundingBox" x1="0" y1="0" x2="1" y2="0"><stop offset="0.01" stop-color="#29115a"/><stop offset="0.03" stop-color="#271258"/><stop offset="0.06" stop-color="#271258"/><stop offset="0.08" stop-color="#271258"/><stop offset="0.1" stop-color="#271258"/><stop offset="0.13" stop-color="#271258"/><stop offset="0.15" stop-color="#271258"/><stop offset="0.18" stop-color="#271258"/><stop offset="0.2" stop-color="#271258"/><stop offset="0.23" stop-color="#271258"/><stop offset="0.25" stop-color="#271258"/><stop offset="0.28" stop-color="#271258"/><stop offset="0.3" stop-color="#271258"/><stop offset="0.33" stop-color="#271258"/><stop offset="0.35" stop-color="#271258"/><stop offset="0.38" stop-color="#271258"/><stop offset="0.4" stop-color="#271258"/><stop offset="0.43" stop-color="#251255"/><stop offset="0.45" stop-color="#251255"/><stop offset="0.48" stop-color="#251255"/><stop offset="0.5" stop-color="#251255"/><stop offset="0.52" stop-color="#251255"/><stop offset="0.55" stop-color="#251255"/><stop offset="0.57" stop-color="#251255"/><stop offset="0.6" stop-color="#251255"/><stop offset="0.62" stop-color="#251255"/><stop offset="0.65" stop-color="#251255"/><stop offset="0.67" stop-color="#251255"/><stop offset="0.7" stop-color="#251255"/><stop offset="0.72" stop-color="#251255"/><stop offset="0.75" stop-color="#251255"/><stop offset="0.77" stop-color="#251255"/><stop offset="0.8" stop-color="#251255"/><stop offset="0.82" stop-color="#251255"/><stop offset="0.85" stop-color="#251255"/><stop offset="0.87" stop-color="#251255"/><stop offset="0.89" stop-color="#251255"/><stop offset="0.92" stop-color="#251255"/><stop offset="0.94" stop-color="#251255"/><stop offset="0.97" stop-color="#251255"/><stop offset="0.99" stop-color="#251255"/></linearGradient>
</defs>
<rect width="1946" height="1291" fill="#fff"/>
<text x="4.2" y="37.5" font-size="50" fill="#000" font-family="'Liberation Sans', Arial, Helvetica, sans-serif" font-weight="bold">a</text>
<use href="#sat" transform="translate(84.5,131.8) rotate(-45.8)"/>
<use href="#sat" transform="translate(237.6,70.9) rotate(-15)"/>
<use href="#sat" transform="translate(371.1,69.7) rotate(14)"/>
<use href="#sat" transform="translate(524.5,130.6) rotate(44)"/>
<line x1="106" y1="153.4" x2="216.34" y2="273.83" stroke="#231815" stroke-width="2.2"/><path d="M223.1,281.2 L208.69,274.06 L215.67,273.09 L217.24,266.22 Z" fill="#231815"/>
<line x1="245.4" y1="98.5" x2="282.26" y2="266.73" stroke="#231815" stroke-width="2.2"/><path d="M284.4,276.5 L275.52,263.09 L282.05,265.75 L286.86,260.61 Z" fill="#231815"/>
<line x1="363.4" y1="98.5" x2="326.54" y2="266.73" stroke="#231815" stroke-width="2.2"/><path d="M324.4,276.5 L321.94,260.61 L326.75,265.75 L333.28,263.09 Z" fill="#231815"/>
<line x1="503.3" y1="153.4" x2="392.57" y2="273.84" stroke="#231815" stroke-width="2.2"/><path d="M385.8,281.2 L391.68,266.23 L393.25,273.1 L400.22,274.08 Z" fill="#231815"/>
<text x="110.3" y="234" font-size="36" fill="#231815" font-family="'Liberation Sans', Arial, Helvetica, sans-serif">d<tspan font-size="27">1</tspan></text>
<text x="214.8" y="180.8" font-size="36" fill="#231815" font-family="'Liberation Sans', Arial, Helvetica, sans-serif">d<tspan font-size="27">2</tspan></text>
<text x="355.8" y="181" font-size="36" fill="#231815" font-family="'Liberation Sans', Arial, Helvetica, sans-serif">d<tspan font-size="27">3</tspan></text>
<text x="453.3" y="234.5" font-size="36" fill="#231815" font-family="'Liberation Sans', Arial, Helvetica, sans-serif">d<tspan font-size="27">4</tspan></text>
<g stroke-linejoin="round" stroke-linecap="round"><line x1="143.6" y1="328.7" x2="170.7" y2="328.7" stroke="#8fcbd3" stroke-width="2.2"/><line x1="148.7" y1="325.3" x2="159.7" y2="325.3" stroke="#8fcbd3" stroke-width="2.2"/><line x1="161.4" y1="332.4" x2="177.5" y2="332.4" stroke="#8fcbd3" stroke-width="2.2"/><line x1="220" y1="333.2" x2="233.4" y2="333.2" stroke="#8fcbd3" stroke-width="2.2"/><line x1="192.7" y1="370.2" x2="214.8" y2="370.2" stroke="#8fcbd3" stroke-width="2.2"/><line x1="311.4" y1="390.6" x2="328.4" y2="390.6" stroke="#8fcbd3" stroke-width="2.2"/><line x1="325" y1="388" x2="344.5" y2="388" stroke="#8fcbd3" stroke-width="2.2"/><line x1="320" y1="394.3" x2="327.6" y2="394.3" stroke="#8fcbd3" stroke-width="2.2"/><path d="M226.7,323 L235,323 L252,338 L238,339 Z" fill="#eb9c45" stroke="#ef8b25" stroke-width="1.8"/><path d="M164,305.3 L184.3,305.3 C195,318 208,335 230,337.8 L376,338.3 C398,338.5 416,343 430,353 C437,358 443,362 443,368 C443,375 433,378 418,379.5 L300,382.2 C258,382 215,374 195,361 C188,357 186,353 186,349.5 Z" fill="#eb9c45" stroke="#ef8b25" stroke-width="2.6"/><path d="M168,350.5 L199,348.5 C203,349 203,352.5 199,353 L168,352 Z" fill="#f0a849" stroke="#ef8b25" stroke-width="1.4"/><path d="M188,353 L198,353 L193,358 Z" fill="#b8823a" opacity="0.6"/><rect x="310.5" y="352.6" width="4.6" height="6.8" rx="1.4" fill="#fff"/><rect x="317.75" y="352.6" width="4.6" height="6.8" rx="1.4" fill="#fff"/><rect x="325" y="352.6" width="4.6" height="6.8" rx="1.4" fill="#fff"/><rect x="332.25" y="352.6" width="4.6" height="6.8" rx="1.4" fill="#fff"/><rect x="339.5" y="352.6" width="4.6" height="6.8" rx="1.4" fill="#fff"/><rect x="346.75" y="352.6" width="4.6" height="6.8" rx="1.4" fill="#fff"/><rect x="354" y="352.6" width="4.6" height="6.8" rx="1.4" fill="#fff"/><rect x="361.25" y="352.6" width="4.6" height="6.8" rx="1.4" fill="#fff"/><rect x="368.5" y="352.6" width="4.6" height="6.8" rx="1.4" fill="#fff"/><rect x="375.75" y="352.6" width="4.6" height="6.8" rx="1.4" fill="#fff"/><rect x="383" y="352.6" width="4.6" height="6.8" rx="1.4" fill="#fff"/><rect x="390.25" y="352.6" width="4.6" height="6.8" rx="1.4" fill="#fff"/><rect x="397.5" y="352.6" width="4.6" height="6.8" rx="1.4" fill="#fff"/><rect x="405.3" y="351.8" width="7" height="6.6" rx="2" fill="#fff"/><path d="M415.5,351.8 H419 C421,352.5 423.5,355 424,358.4 H415.5 Z" fill="#fff"/><path d="M236,338.5 L289,371.5 L304,378.5 L320,383 L352,391 L357.5,389.5 L356,367 L249,341 Z" fill="#eb9c45"/><path d="M236,338.5 L289,371.5 L352,366 L356,367 L357.5,389.5 L352,391 L320,383 L304,378.5 M249,341 L354,366.3" fill="none" stroke="#ef8b25" stroke-width="2.5"/><path d="M305,366.5 L330,363.8 C333.5,363.8 334.5,366 334.5,369 V378.5 C334.5,381.5 332,382.5 329,382 L306,378 C302.5,377 302,368 305,366.5 Z" fill="#eb9c45" stroke="#ef8b25" stroke-width="2"/></g>
<text x="162" y="441" font-size="36.5" fill="#231815" font-family="'Liberation Sans', Arial, Helvetica, sans-serif">V = (d<tspan font-size="24.5">1</tspan>, d<tspan font-size="24.5">2</tspan>, d<tspan font-size="24.5">3</tspan>, d<tspan font-size="24.5">4</tspan>)</text>
<g clip-path="url(#globeclip)"><circle cx="299.5" cy="1148" r="626.2" fill="#c9cacc" stroke="#7d7d7d" stroke-width="3"/><g fill="none" stroke="#8a8a8a" stroke-width="3.4" stroke-linejoin="round" stroke-linecap="round"><path d="M401.5,554 C405,551 411,550.8 418,550 C425,549.2 430,550 433.4,551.6 C438,553 441,555 443,555.6 C446,558 449,559.6 452,560.5 C457,562 461,563 465.2,564.3 C470,566 473,568 476,570 C479,573 481,574.7 485,576.5 C489,578 492,576 497,573.1 C502,571 505,570 508.3,569.9 C513,570 517,571 521,571.5 C529,573 533,574 537,574.7 C545,577 550,579 553,581 C560,584 566,586 569,587.5 L577,592.5"/><path d="M404,558 C410,555.5 417,555 424,556 C430,557 436,559 441,561.5 C447,564 452,566 458,567.5 C464,569 470,572 474.8,577.9 C480,580 485,581 489,581.1"/><path d="M425,552 C428,556 432,560 438,563 M455,561 C458,565 462,568 466,570 M500,575 C503,578 506,580 508,583 M530,573 C535,577 540,580 545,583"/><path d="M369.7,574.7 C372,572 374,570 376,570 C380,568 383,566.7 385.6,566.7 C389,567.5 392,569 395.2,570 C398,571 400,571.5 401.5,571.5 C405,572 408,573 411,573.1 C416,574 421,575 425.4,575.5 C431,576.5 436,577.5 441.3,578.7"/><path d="M372.8,576.3 C377,578 381,579.5 385.6,581.1 C389,583 391,584.5 393.6,585.9 C396,588 399,590 401.5,592.2 M385.6,587.5 C391,589.5 396,591.5 401.5,593.8 M390,572 C394,575 398,578 404,580 C410,582 418,583 428,583.5"/><path d="M506.7,594 C507.5,588 508.5,580 509.8,571.5 C514,570.5 518,570 521,569.9 C525,571.5 527,573 529,574.7 M513,585.9 C522,588 532,590 544.9,592.2 M560.8,587.5 C567,589 574,591 584.7,593"/><path d="M245,591.5 C250,589.5 255,590 258,591 C262,588.5 267,588 271,589 C275,590.5 280,591 284,592"/></g><g fill="#8a8a8a"><ellipse cx="135.4" cy="583" rx="5.5" ry="3.2" transform="rotate(-20 135.4 583)"/><path d="M143,585 C144,580 148,578 152,579 C155,580 156,583 159,584 C162,586 163,590 160,593 L141,593 C140,590 141,587 143,585 Z"/><path d="M124,593 C125,589 129,587 133,588 C136,589 137,591 138,593 Z"/><path d="M164,593 C166,590 172,588.5 178,589 C184,588.5 190,589.5 193,593 Z"/></g><path d="M4.8,593 C11.97,587.83 32.67,571.42 47.8,562 C62.93,552.58 79.67,543.42 95.6,536.5 C111.53,529.58 127.47,524.48 143.4,520.5 C159.33,516.52 177.93,514.23 191.2,512.6 C204.47,510.97 212.38,510.7 223,510.7 C233.62,510.7 244.27,511.22 254.9,512.6 C265.53,513.98 279.37,517.42 286.8,519 C294.23,520.58 291,519.45 299.5,522.1 C308,524.75 323.45,528.25 337.8,534.9 C352.15,541.55 368.87,552.32 385.6,562 C402.33,571.68 429.43,587.83 438.2,593" fill="none" stroke="#e4604e" stroke-width="3.4"/><path d="M160.8,593 C169.57,587.83 196.67,571.68 213.4,562 C230.13,552.32 246.85,541.55 261.2,534.9 C275.55,528.25 291,524.75 299.5,522.1 C308,519.45 304.77,520.58 312.2,519 C319.63,517.42 333.47,513.98 344.1,512.6 C354.73,511.22 365.38,510.7 376,510.7 C386.62,510.7 394.53,510.97 407.8,512.6 C421.07,514.23 439.67,516.52 455.6,520.5 C471.53,524.48 487.47,529.58 503.4,536.5 C519.33,543.42 536.07,552.58 551.2,562 C566.33,571.42 587.03,587.83 594.2,593" fill="none" stroke="#e4604e" stroke-width="3.4"/></g>
<g><line x1="299.5" y1="496" x2="299.5" y2="534" stroke="#e4604e" stroke-width="2.6"/><path d="M291,489.5 A10,10 0 1 1 308,489.5 L299.5,501 Z" fill="#e4604e"/><circle cx="299.5" cy="484.7" r="7.6" fill="#e9e9e9"/><path d="M294.2,482.3 H305 L299.6,489.4 Z" fill="#e4604e"/></g>
<text x="299.5" y="572" font-size="31" fill="#231815" font-family="'Liberation Sans', Arial, Helvetica, sans-serif" text-anchor="middle">(X, Y, Z)</text>
<text x="666.2" y="37.3" font-size="50" fill="#000" font-family="'Liberation Sans', Arial, Helvetica, sans-serif" font-weight="bold">b</text>
<use href="#person" fill="#67b8ca" transform="translate(741.6,199.2) scale(1)"/>
<use href="#person" fill="#67b8ca" transform="translate(904.3,116.6) scale(1)"/>
<use href="#person" fill="#67b8ca" transform="translate(1040.3,115.9) scale(1)"/>
<use href="#person" fill="#67b8ca" transform="translate(1201.6,202.8) scale(1)"/>
<use href="#person" fill="#e8881f" transform="translate(970.6,368.5) scale(1.6)"/>
<use href="#person" fill="#67b8ca" transform="translate(1072.2,41.4) scale(0.44)"/>
<circle cx="1085.4" cy="198.4" r="4.4" fill="#67b8ca"/>
<circle cx="1124" cy="211.4" r="4.4" fill="#67b8ca"/>
<circle cx="1156.5" cy="231" r="4.4" fill="#67b8ca"/>
<text x="1084.8" y="74.7" font-size="31.6" fill="#231815" font-family="'Liberation Sans', Arial, Helvetica, sans-serif">:Open data</text>
<path d="M707.4,90.5 C695,90.5 687.7,100 687.7,115 V346 C687.7,361 695,370 707.4,370" fill="none" stroke="#808080" stroke-width="1.5"/>
<path d="M1236.5,90.5 C1249,90.5 1256.4,100 1256.4,115 V346 C1256.4,361 1249,370 1236.5,370" fill="none" stroke="#808080" stroke-width="1.5"/>
<line x1="760.1" y1="285.6" x2="871.8" y2="369.49" stroke="#333" stroke-width="1.9"/><path d="M879.8,375.5 L864.5,370.89 L871,368.89 L871.11,362.09 Z" fill="#333"/>
<line x1="904.2" y1="217.5" x2="934.51" y2="352.74" stroke="#333" stroke-width="1.9"/><path d="M936.7,362.5 L928.05,349.07 L934.29,351.77 L938.79,346.66 Z" fill="#333"/>
<line x1="1040.3" y1="219.8" x2="1003.49" y2="351.87" stroke="#333" stroke-width="1.9"/><path d="M1000.8,361.5 L999.53,345.57 L1003.75,350.9 L1010.13,348.53 Z" fill="#333"/>
<line x1="1184.4" y1="281.1" x2="1051.91" y2="369.93" stroke="#333" stroke-width="1.9"/><path d="M1043.6,375.5 L1053,362.58 L1052.74,369.37 L1059.12,371.72 Z" fill="#333"/>
<text x="768.3" y="343" font-size="35" fill="#231815" font-family="'Liberation Sans', Arial, Helvetica, sans-serif">d<tspan font-size="26.5">1</tspan></text>
<text x="876" y="287.2" font-size="35" fill="#231815" font-family="'Liberation Sans', Arial, Helvetica, sans-serif">d<tspan font-size="26.5">2</tspan></text>
<text x="1030" y="287.2" font-size="35" fill="#231815" font-family="'Liberation Sans', Arial, Helvetica, sans-serif">d<tspan font-size="26.5">3</tspan></text>
<text x="1130.5" y="344.5" font-size="35" fill="#231815" font-family="'Liberation Sans', Arial, Helvetica, sans-serif">d<tspan font-size="26.5">k</tspan></text>
<rect x="782.3" y="532.8" width="380.8" height="54" fill="#f9d6a0" stroke="#f5cb8c" stroke-width="1"/>
<text x="795.5" y="573.2" font-size="40" fill="#231815" font-family="'Liberation Sans', Arial, Helvetica, sans-serif">V = (d<tspan font-size="27">1</tspan>, d<tspan font-size="27">2</tspan>, d<tspan font-size="27">3</tspan>,…, d<tspan font-size="27">k</tspan>)</text>
<text x="1336.5" y="37.3" font-size="50" fill="#000" font-family="'Liberation Sans', Arial, Helvetica, sans-serif" font-weight="bold">c</text>
<path d="M1350.9,112.7 V542 A295,29 0 0 0 1940.9,542 V112.7 Z" fill="#fff" stroke="#8c8c8c" stroke-width="3"/>
<ellipse cx="1645.9" cy="113.2" rx="295" ry="25.2" fill="#e3e3e3" stroke="#8c8c8c" stroke-width="3"/>
<text x="1558" y="128.7" font-size="40" fill="#231815" font-family="'Liberation Sans', Arial, Helvetica, sans-serif">Data hub</text>
<rect x="1410.7" y="161.6" width="418.3" height="300" fill="#fff" stroke="#444" stroke-width="1.8"/><path d="M1480.45,161.6V461.6M1550.2,161.6V461.6M1619.95,161.6V461.6M1689.7,161.6V461.6M1759.45,161.6V461.6M1410.7,202.7H1829" stroke="#444" stroke-width="1.8" fill="none"/>
<rect x="1391.7" y="188.7" width="418" height="299.3" fill="#fff" stroke="#444" stroke-width="1.8"/><path d="M1461.45,188.7V488M1531.2,188.7V488M1600.95,188.7V488M1670.7,188.7V488M1740.45,188.7V488M1391.7,229.8H1809.7" stroke="#444" stroke-width="1.8" fill="none"/>
<rect x="1366.5" y="213.9" width="418.5" height="300.3" fill="#fff" stroke="#333" stroke-width="2.6"/><rect x="1367.8" y="257.2" width="415.9" height="41.6" fill="#f9d49c"/><path d="M1436.25,213.9V514.2M1506,213.9V514.2M1575.75,213.9V514.2M1645.5,213.9V514.2M1715.25,213.9V514.2M1366.5,255.6H1785" stroke="#333" stroke-width="2.6" fill="none"/>
<text x="1401.38" y="248.8" font-size="35" fill="#231815" font-family="'Liberation Sans', Arial, Helvetica, sans-serif" text-anchor="middle">ID</text>
<text x="1471.12" y="248.8" font-size="35" fill="#231815" font-family="'Liberation Sans', Arial, Helvetica, sans-serif" text-anchor="middle">S1</text>
<text x="1540.88" y="248.8" font-size="35" fill="#231815" font-family="'Liberation Sans', Arial, Helvetica, sans-serif" text-anchor="middle">S2</text>
<text x="1610.62" y="248.8" font-size="35" fill="#231815" font-family="'Liberation Sans', Arial, Helvetica, sans-serif" text-anchor="middle">S3</text>
<text x="1680.38" y="248.8" font-size="20" fill="#231815" font-family="'Liberation Sans', Arial, Helvetica, sans-serif" text-anchor="middle">...</text>
<text x="1750.12" y="248.8" font-size="35" fill="#231815" font-family="'Liberation Sans', Arial, Helvetica, sans-serif" text-anchor="middle">S<tspan font-size="26">k</tspan></text>
<text x="1401.38" y="291" font-size="31" fill="#231815" font-family="'Liberation Sans', Arial, Helvetica, sans-serif" text-anchor="middle">ID<tspan font-size="22.5">1</tspan></text>
<text x="1471.12" y="291" font-size="31" fill="#231815" font-family="'Liberation Sans', Arial, Helvetica, sans-serif" text-anchor="middle">d<tspan font-size="22.5">11</tspan></text>
<text x="1540.88" y="291" font-size="31" fill="#231815" font-family="'Liberation Sans', Arial, Helvetica, sans-serif" text-anchor="middle">d<tspan font-size="22.5">12</tspan></text>
<text x="1610.62" y="291" font-size="31" fill="#231815" font-family="'Liberation Sans', Arial, Helvetica, sans-serif" text-anchor="middle">d<tspan font-size="22.5">13</tspan></text>
<text x="1750.12" y="291" font-size="31" fill="#231815" font-family="'Liberation Sans', Arial, Helvetica, sans-serif" text-anchor="middle">d<tspan font-size="22.5">1k</tspan></text>
<text x="1401.38" y="333" font-size="31" fill="#231815" font-family="'Liberation Sans', Arial, Helvetica, sans-serif" text-anchor="middle">ID<tspan font-size="22.5">2</tspan></text>
<text x="1471.12" y="333" font-size="31" fill="#231815" font-family="'Liberation Sans', Arial, Helvetica, sans-serif" text-anchor="middle">d<tspan font-size="22.5">21</tspan></text>
<text x="1540.88" y="333" font-size="31" fill="#231815" font-family="'Liberation Sans', Arial, Helvetica, sans-serif" text-anchor="middle">d<tspan font-size="22.5">22</tspan></text>
<text x="1610.62" y="333" font-size="31" fill="#231815" font-family="'Liberation Sans', Arial, Helvetica, sans-serif" text-anchor="middle">d<tspan font-size="22.5">23</tspan></text>
<text x="1750.12" y="333" font-size="31" fill="#231815" font-family="'Liberation Sans', Arial, Helvetica, sans-serif" text-anchor="middle">d<tspan font-size="22.5">2k</tspan></text>
<text x="1401.38" y="375.3" font-size="31" fill="#231815" font-family="'Liberation Sans', Arial, Helvetica, sans-serif" text-anchor="middle">ID<tspan font-size="22.5">3</tspan></text>
<text x="1471.12" y="375.3" font-size="31" fill="#231815" font-family="'Liberation Sans', Arial, Helvetica, sans-serif" text-anchor="middle">d<tspan font-size="22.5">31</tspan></text>
<text x="1540.88" y="375.3" font-size="31" fill="#231815" font-family="'Liberation Sans', Arial, Helvetica, sans-serif" text-anchor="middle">d<tspan font-size="22.5">32</tspan></text>
<text x="1610.62" y="375.3" font-size="31" fill="#231815" font-family="'Liberation Sans', Arial, Helvetica, sans-serif" text-anchor="middle">d<tspan font-size="22.5">33</tspan></text>
<text x="1750.12" y="375.3" font-size="31" fill="#231815" font-family="'Liberation Sans', Arial, Helvetica, sans-serif" text-anchor="middle">d<tspan font-size="22.5">3k</tspan></text>
<g fill="#231815"><circle cx="1398.97" cy="416.7" r="1.15"/><circle cx="1403.78" cy="416.7" r="1.15"/><circle cx="1468.72" cy="416.7" r="1.15"/><circle cx="1473.53" cy="416.7" r="1.15"/><circle cx="1538.47" cy="416.7" r="1.15"/><circle cx="1543.28" cy="416.7" r="1.15"/><circle cx="1608.22" cy="416.7" r="1.15"/><circle cx="1613.03" cy="416.7" r="1.15"/><circle cx="1677.97" cy="416.7" r="1.15"/><circle cx="1682.78" cy="416.7" r="1.15"/><circle cx="1747.72" cy="416.7" r="1.15"/><circle cx="1752.53" cy="416.7" r="1.15"/><circle cx="1398.97" cy="457.9" r="1.15"/><circle cx="1403.78" cy="457.9" r="1.15"/><circle cx="1468.72" cy="457.9" r="1.15"/><circle cx="1473.53" cy="457.9" r="1.15"/><circle cx="1538.47" cy="457.9" r="1.15"/><circle cx="1543.28" cy="457.9" r="1.15"/><circle cx="1608.22" cy="457.9" r="1.15"/><circle cx="1613.03" cy="457.9" r="1.15"/><circle cx="1677.97" cy="457.9" r="1.15"/><circle cx="1682.78" cy="457.9" r="1.15"/><circle cx="1747.72" cy="457.9" r="1.15"/><circle cx="1752.53" cy="457.9" r="1.15"/><circle cx="1398.97" cy="499.9" r="1.15"/><circle cx="1403.78" cy="499.9" r="1.15"/><circle cx="1468.72" cy="499.9" r="1.15"/><circle cx="1473.53" cy="499.9" r="1.15"/><circle cx="1538.47" cy="499.9" r="1.15"/><circle cx="1543.28" cy="499.9" r="1.15"/><circle cx="1608.22" cy="499.9" r="1.15"/><circle cx="1613.03" cy="499.9" r="1.15"/><circle cx="1677.97" cy="499.9" r="1.15"/><circle cx="1682.78" cy="499.9" r="1.15"/><circle cx="1747.72" cy="499.9" r="1.15"/><circle cx="1752.53" cy="499.9" r="1.15"/></g>
<text x="1832.8" y="462.5" font-size="29.4" fill="#231815" font-family="'Liberation Sans', Arial, Helvetica, sans-serif">Study 3</text>
<text x="1817.8" y="493.7" font-size="29.2" fill="#231815" font-family="'Liberation Sans', Arial, Helvetica, sans-serif">Study 2</text>
<text x="1792.3" y="523.3" font-size="29" fill="#231815" font-family="'Liberation Sans', Arial, Helvetica, sans-serif">Study 1</text>
<text x="1493.3" y="549.1" font-size="32.8" fill="#231815" font-family="'Liberation Sans', Arial, Helvetica, sans-serif">K References</text>
<path d="M1165,565.5 C1177.17,565.5 1223.5,565.62 1238,565.5 C1252.5,565.38 1247.83,565.8 1252,564.8 C1256.17,563.8 1259.73,562.78 1263,559.5 C1266.27,556.22 1268.93,553.68 1271.6,545.1 C1274.27,536.52 1276.12,524.52 1279,508 C1281.88,491.48 1285.58,468.73 1288.9,446 C1292.22,423.27 1296,392.27 1298.9,371.6 C1301.8,350.93 1303.83,334.4 1306.3,322 C1308.77,309.6 1310.82,303.6 1313.7,297.2 C1316.58,290.8 1319.47,286.58 1323.6,283.6 C1327.73,280.62 1332.77,280.02 1338.5,279.3 C1344.23,278.58 1354.75,279.3 1358,279.3" fill="none" stroke="#3b2516" stroke-width="2.8" stroke-dasharray="3.8,2.5"/><path d="M1373.5,279.3 L1355.5,272 L1360,279.3 L1355.5,286.6 Z" fill="#333"/>
<text x="4.2" y="690.5" font-size="50" fill="#000" font-family="'Liberation Sans', Arial, Helvetica, sans-serif" font-weight="bold">d</text>
<use href="#bust" fill="#b596c5" transform="translate(124.2,752.9)"/>
<use href="#bust" fill="#6bbccd" transform="translate(124.4,852.7)"/>
<rect x="3.5" y="756" width="40.3" height="21.9" fill="#aca6cc"/><rect x="43.8" y="756" width="40.3" height="21.9" fill="#bb95c1"/><rect x="84.1" y="756" width="40.3" height="21.9" fill="#aca6cc"/><rect x="124.4" y="756" width="40.3" height="21.9" fill="#bb95c1"/><rect x="164.7" y="756" width="40.3" height="21.9" fill="#aca6cc"/><rect x="205" y="756" width="40.3" height="21.9" fill="#bb95c1"/><path d="M43.8,756V777.9M84.1,756V777.9M124.4,756V777.9M164.7,756V777.9M205,756V777.9" stroke="#333" stroke-width="1.1"/><rect x="3.5" y="756" width="241.8" height="21.9" fill="none" stroke="#333" stroke-width="1.3"/>
<rect x="3.5" y="856.4" width="40.3" height="22" fill="#2aaab6"/><rect x="43.8" y="856.4" width="40.3" height="22" fill="#66bdc5"/><rect x="84.1" y="856.4" width="40.3" height="22" fill="#2aaab6"/><rect x="124.4" y="856.4" width="40.3" height="22" fill="#66bdc5"/><rect x="164.7" y="856.4" width="40.3" height="22" fill="#2aaab6"/><rect x="205" y="856.4" width="40.3" height="22" fill="#66bdc5"/><path d="M43.8,856.4V878.4M84.1,856.4V878.4M124.4,856.4V878.4M164.7,856.4V878.4M205,856.4V878.4" stroke="#333" stroke-width="1.1"/><rect x="3.5" y="856.4" width="241.8" height="22" fill="none" stroke="#333" stroke-width="1.3"/>
<rect x="373.7" y="803.8" width="40.2" height="22.1" fill="#f0a443"/><rect x="413.9" y="803.8" width="40.2" height="22.1" fill="#ec912d"/><rect x="454.1" y="803.8" width="40.2" height="22.1" fill="#f0a443"/><rect x="494.3" y="803.8" width="40.2" height="22.1" fill="#ec912d"/><rect x="534.5" y="803.8" width="40.2" height="22.1" fill="#f0a443"/><rect x="574.7" y="803.8" width="40.2" height="22.1" fill="#ec912d"/><path d="M413.9,803.8V825.9M454.1,803.8V825.9M494.3,803.8V825.9M534.5,803.8V825.9M574.7,803.8V825.9" stroke="#333" stroke-width="1.1"/><rect x="373.7" y="803.8" width="241.2" height="22.1" fill="none" stroke="#333" stroke-width="1.3"/>
<text x="116" y="745.6" font-size="41" fill="#000" font-family="'DejaVu Serif', serif" font-style="italic">t</text>
<text x="109.5" y="847.2" font-size="41" fill="#000" font-family="'DejaVu Serif', serif" font-style="italic">u</text>
<line x1="200.1" y1="800" x2="200.1" y2="834" stroke="#000" stroke-width="2.1"/>
<path d="M200.1,788.7 L207.8,806.2 L200.1,802.5 L192.4,806.2 Z" fill="#000"/>
<path d="M200.1,844.7 L207.8,827.3 L200.1,831 L192.4,827.3 Z" fill="#000"/>
<text x="208.5" y="829.5" font-size="43" fill="#000" font-family="'DejaVu Serif', serif">(</text>
<text x="225.3" y="827.3" font-size="41" fill="#000" font-family="'DejaVu Serif', serif" font-style="italic">v</text>
<text x="248.8" y="835.5" font-size="24.5" fill="#000" font-family="'DejaVu Serif', serif" font-style="italic">t</text>
<text x="272.8" y="826.9" font-size="41" fill="#000" font-family="'DejaVu Serif', serif">−</text>
<text x="315.2" y="827.3" font-size="41" fill="#000" font-family="'DejaVu Serif', serif" font-style="italic">v</text>
<text x="336.5" y="835.5" font-size="25.5" fill="#000" font-family="'DejaVu Serif', serif" font-style="italic">u</text>
<text x="355.8" y="829" font-size="42" fill="#000" font-family="'DejaVu Serif', serif">)</text>
<rect x="373.7" y="852.8" width="241.2" height="238.7" fill="#e6e6e6"/><rect x="373.7" y="852.8" width="40.2" height="39.78" fill="#d1d1d1"/><rect x="413.9" y="892.58" width="40.2" height="39.78" fill="#d1d1d1"/><rect x="454.1" y="932.37" width="40.2" height="39.78" fill="#d1d1d1"/><rect x="494.3" y="972.15" width="40.2" height="39.78" fill="#d1d1d1"/><rect x="534.5" y="1011.93" width="40.2" height="39.78" fill="#d1d1d1"/><rect x="574.7" y="1051.72" width="40.2" height="39.78" fill="#d1d1d1"/><path d="M373.7,852.8V1091.5M373.7,852.8H614.9M413.9,852.8V1091.5M373.7,892.58H614.9M454.1,852.8V1091.5M373.7,932.37H614.9M494.3,852.8V1091.5M373.7,972.15H614.9M534.5,852.8V1091.5M373.7,1011.93H614.9M574.7,852.8V1091.5M373.7,1051.72H614.9M614.9,852.8V1091.5M373.7,1091.5H614.9" stroke="#b5b5b5" stroke-width="1.3" fill="none"/>
<text x="478.5" y="981" font-size="42" fill="#000" font-family="'DejaVu Serif', serif">Σ</text>
<path d="M78,1160.3 C81.2,1154.58 90.9,1142.57 97.2,1126 C103.5,1109.43 110.85,1077.33 115.8,1060.9 C120.75,1044.47 123.18,1037.32 126.9,1027.4 C130.62,1017.48 136.23,1005.73 138.1,1001.4 L138.1,1161.3 L78,1161.3 Z" fill="#eb5a2b"/>
<path d="M78,1160.3 C81.2,1154.58 90.9,1142.57 97.2,1126 C103.5,1109.43 110.85,1077.33 115.8,1060.9 C120.75,1044.47 123.18,1037.32 126.9,1027.4 C130.62,1017.48 135,1007.75 138.1,1001.4 C141.2,995.05 142.72,991.93 145.5,989.3 C148.28,986.67 151.7,985.45 154.8,985.6 C157.9,985.75 159.75,985.4 164.1,990.2 C168.45,995 174.7,1003.55 180.9,1014.4 C187.1,1025.25 194.48,1041.05 201.3,1055.3 C208.12,1069.55 214.37,1089.05 221.8,1099.9 C229.23,1110.75 235.68,1112.65 245.9,1120.4 C256.12,1128.15 269.62,1139.75 283.1,1146.4 C296.58,1153.05 319.52,1157.98 326.8,1160.3" fill="none" stroke="#000" stroke-width="2.2"/>
<line x1="138.1" y1="976.3" x2="138.1" y2="1161" stroke="#333" stroke-width="1.1" stroke-dasharray="4,3"/>
<path d="M78,983.7 V1161.3 H359.7" fill="none" stroke="#000" stroke-width="2.2"/>
<text x="92.3" y="973.8" font-size="24.3" fill="#000" font-family="'Liberation Sans', Arial, Helvetica, sans-serif">Observed</text>
<text x="92.2" y="1055.2" font-size="24" fill="#000" font-family="'DejaVu Serif', serif" font-style="italic">p</text>
<path d="M99,1064.6 C100,1074 110,1082 126,1083.2" fill="none" stroke="#333" stroke-width="1.1"/>
<text x="205.5" y="1044.5" font-size="20" fill="#000" font-family="'DejaVu Serif', serif">~</text>
<text x="222" y="1040.6" font-size="30" fill="#000" font-family="'Liberation Serif', 'Times New Roman', serif" font-style="italic">χ</text>
<text x="238.3" y="1032" font-size="14.2" fill="#000" font-family="'DejaVu Serif', serif">2</text>
<text x="79.4" y="1218.5" font-size="40" fill="#000" font-family="'DejaVu Serif', serif" font-style="italic">s</text>
<text x="97.6" y="1225.8" font-size="29.6" fill="#000" font-family="'DejaVu Serif', serif" font-style="italic">overlap</text>
<text x="221.7" y="1218.5" font-size="40" fill="#000" font-family="'DejaVu Serif', serif">=</text>
<text x="265.5" y="1220.5" font-size="42" fill="#000" font-family="'DejaVu Serif', serif">(</text>
<text x="281.5" y="1218.5" font-size="41" fill="#000" font-family="'DejaVu Serif', serif" font-style="italic">v</text>
<text x="303.5" y="1225.8" font-size="27.5" fill="#000" font-family="'DejaVu Serif', serif" font-style="italic">t</text>
<text x="326.8" y="1219" font-size="40" fill="#000" font-family="'DejaVu Serif', serif">−</text>
<text x="368" y="1218.5" font-size="41" fill="#000" font-family="'DejaVu Serif', serif" font-style="italic">v</text>
<text x="386" y="1225.8" font-size="27" fill="#000" font-family="'DejaVu Serif', serif" font-style="italic">u</text>
<text x="405.5" y="1220.5" font-size="42" fill="#000" font-family="'DejaVu Serif', serif">)</text>
<text x="423.4" y="1199.3" font-size="16" fill="#000" font-family="'DejaVu Serif', serif">T</text>
<text x="441.8" y="1217.8" font-size="36" fill="#000" font-family="'DejaVu Serif', serif">Σ</text>
<text x="468" y="1199.5" font-size="15" fill="#000" font-family="'DejaVu Serif', serif" letter-spacing="4.4">-1</text>
<text x="490.3" y="1220.5" font-size="42" fill="#000" font-family="'DejaVu Serif', serif">(</text>
<text x="508.3" y="1218.5" font-size="41" fill="#000" font-family="'DejaVu Serif', serif" font-style="italic">v</text>
<text x="529.5" y="1225.8" font-size="27.5" fill="#000" font-family="'DejaVu Serif', serif" font-style="italic">t</text>
<text x="552.2" y="1219.3" font-size="40" fill="#000" font-family="'DejaVu Serif', serif">−</text>
<text x="592.3" y="1218.5" font-size="41" fill="#000" font-family="'DejaVu Serif', serif" font-style="italic">v</text>
<text x="611.2" y="1225.8" font-size="27" fill="#000" font-family="'DejaVu Serif', serif" font-style="italic">u</text>
<text x="630.5" y="1220.5" font-size="42" fill="#000" font-family="'DejaVu Serif', serif">)</text>
<text x="665.5" y="690.5" font-size="50" fill="#000" font-family="'Liberation Sans', Arial, Helvetica, sans-serif" font-weight="bold">e</text>
<rect x="761.1" y="1120.54" width="612.7" height="17.81" fill="url(#hg0)"/><rect x="761.1" y="1102.73" width="612.7" height="19.01" fill="url(#hg1)"/><rect x="761.1" y="1084.91" width="612.7" height="19.01" fill="url(#hg2)"/><rect x="761.1" y="1067.11" width="612.7" height="19.01" fill="url(#hg3)"/><rect x="761.1" y="1049.3" width="612.7" height="19.01" fill="url(#hg4)"/><rect x="761.1" y="1031.49" width="612.7" height="19.01" fill="url(#hg5)"/><rect x="761.1" y="1013.68" width="612.7" height="19.01" fill="url(#hg6)"/><rect x="761.1" y="995.87" width="612.7" height="19.01" fill="url(#hg7)"/><rect x="761.1" y="978.06" width="612.7" height="19.01" fill="url(#hg8)"/><rect x="761.1" y="960.25" width="612.7" height="19.01" fill="url(#hg9)"/><rect x="761.1" y="942.44" width="612.7" height="19.01" fill="url(#hg10)"/><rect x="761.1" y="924.63" width="612.7" height="19.01" fill="url(#hg11)"/><rect x="761.1" y="906.82" width="612.7" height="19.01" fill="url(#hg12)"/><rect x="761.1" y="889.01" width="612.7" height="19.01" fill="url(#hg13)"/><rect x="761.1" y="871.2" width="612.7" height="19.01" fill="url(#hg14)"/><rect x="761.1" y="853.39" width="612.7" height="19.01" fill="url(#hg15)"/><rect x="761.1" y="835.58" width="612.7" height="19.01" fill="url(#hg16)"/><rect x="761.1" y="817.77" width="612.7" height="19.01" fill="url(#hg17)"/><rect x="761.1" y="799.96" width="612.7" height="19.01" fill="url(#hg18)"/><rect x="761.1" y="782.15" width="612.7" height="19.01" fill="url(#hg19)"/><rect x="761.1" y="764.34" width="612.7" height="19.01" fill="url(#hg20)"/><rect x="761.1" y="746.53" width="612.7" height="19.01" fill="url(#hg21)"/><rect x="761.1" y="728.72" width="612.7" height="19.01" fill="url(#hg22)"/><rect x="761.1" y="710.91" width="612.7" height="19.01" fill="url(#hg23)"/><rect x="761.1" y="693.1" width="612.7" height="19.01" fill="url(#hg24)"/>
<path d="M764.9,1105 C774.22,1106.18 800.52,1109.95 820.8,1112.1 C841.08,1114.25 864.68,1116.45 886.6,1117.9 C908.52,1119.35 930.38,1120.2 952.3,1120.8 C974.22,1121.4 1000.15,1121.3 1018.1,1121.5 C1036.05,1121.7 1044.8,1122.2 1060,1122 C1075.2,1121.8 1091.63,1120.47 1109.3,1120.3 C1126.97,1120.13 1146.82,1120.72 1166,1121 C1185.18,1121.28 1206.43,1121.7 1224.4,1122 C1242.37,1122.3 1257.87,1122.72 1273.8,1122.8 C1289.73,1122.88 1303.97,1122.63 1320,1122.5 C1336.03,1122.37 1361.67,1122.08 1370,1122" fill="none" stroke="#fff" stroke-width="1.6"/>
<path d="M764.9,1060.6 C771.47,1061.92 786.77,1065.53 804.3,1068.5 C821.83,1071.47 848.17,1075.78 870.1,1078.4 C892.03,1081.02 913.97,1082.88 935.9,1084.2 C957.83,1085.52 981.02,1085.95 1001.7,1086.3 C1022.38,1086.65 1042.07,1086.58 1060,1086.3 C1077.93,1086.02 1092.63,1084.73 1109.3,1084.6 C1125.97,1084.47 1143.55,1085.03 1160,1085.5 C1176.45,1085.97 1187.67,1086.8 1208,1087.4 C1228.33,1088 1261.67,1088.92 1282,1089.1 C1302.33,1089.28 1315.33,1088.92 1330,1088.5 C1344.67,1088.08 1363.33,1086.92 1370,1086.6" fill="none" stroke="#fff" stroke-width="1.6"/>
<path d="M764.9,997 C771.47,998.78 790.88,1004.42 804.3,1007.7 C817.72,1010.98 831.68,1013.97 845.4,1016.7 C859.12,1019.43 871.52,1022.03 886.6,1024.1 C901.68,1026.17 922.2,1027.58 935.9,1029.1 C949.6,1030.62 956.47,1032.05 968.8,1033.2 C981.13,1034.35 998.93,1035.6 1009.9,1036 C1020.87,1036.4 1026.25,1036.07 1034.6,1035.6 C1042.95,1035.13 1047.55,1034.35 1060,1033.2 C1072.45,1032.05 1096.97,1029.25 1109.3,1028.7 C1121.63,1028.15 1120.28,1028.47 1134,1029.9 C1147.72,1031.33 1173.78,1035.47 1191.6,1037.3 C1209.42,1039.13 1224.47,1039.95 1240.9,1040.9 C1257.33,1041.85 1276.5,1042.92 1290.2,1043 C1303.9,1043.08 1309.8,1042.08 1323.1,1041.4 C1336.4,1040.72 1362.18,1039.32 1370,1038.9" fill="none" stroke="#fff" stroke-width="1.6"/>
<path d="M764.7,938.9 C769.28,940.85 782.97,946.95 792.2,950.6 C801.43,954.25 809.03,957.58 820.1,960.8 C831.17,964.02 844.65,967.32 858.6,969.9 C872.55,972.48 891.63,974.57 903.8,976.3 C915.97,978.03 920.77,978.5 931.6,980.3 C942.43,982.1 957.12,985.33 968.8,987.1 C980.48,988.87 990.73,990.27 1001.7,990.9 C1012.67,991.53 1024.88,991.33 1034.6,990.9 C1044.32,990.47 1047.55,989.67 1060,988.3 C1072.45,986.93 1096.97,983.3 1109.3,982.7 C1121.63,982.1 1120.28,982.73 1134,984.7 C1147.72,986.67 1173.78,991.08 1191.6,994.5 C1209.42,997.92 1225.83,1002.87 1240.9,1005.2 C1255.97,1007.53 1271.03,1008.03 1282,1008.5 C1292.97,1008.97 1292.03,1008.73 1306.7,1008 C1321.37,1007.27 1359.45,1004.75 1370,1004.1" fill="none" stroke="#fff" stroke-width="1.6"/>
<path d="M764.7,855.8 C766.5,856.82 767.82,857.72 775.5,861.9 C783.18,866.08 796.87,874.33 810.8,880.9 C824.73,887.47 843.6,895.42 859.1,901.3 C874.6,907.18 890.78,912.32 903.8,916.2 C916.82,920.08 926.37,921.5 937.2,924.6 C948.03,927.7 958.88,932.12 968.8,934.8 C978.72,937.48 987.4,939.4 996.7,940.7 C1006,942 1016.53,942.65 1024.6,942.6 C1032.67,942.55 1036.73,941.63 1045.1,940.4 C1053.47,939.17 1064.57,936.38 1074.8,935.2 C1085.03,934.02 1097.18,933.52 1106.5,933.3 C1115.82,933.08 1116.75,931.48 1130.7,933.9 C1144.65,936.32 1174.08,943.62 1190.2,947.8 C1206.32,951.98 1213.47,955.28 1227.4,959 C1241.33,962.72 1261.42,968.1 1273.8,970.1 C1286.18,972.1 1290.85,971.15 1301.7,971 C1312.55,970.85 1327.58,970.18 1338.9,969.2 C1350.22,968.22 1364.48,965.78 1369.6,965.1" fill="none" stroke="#fff" stroke-width="1.6"/>
<path d="M764.7,793.1 C767.42,795.8 774.87,803.97 781,809.3 C787.13,814.63 794.98,820.3 801.5,825.1 C808.02,829.9 814.83,834.75 820.1,838.1 C825.37,841.45 828.77,843.18 833.1,845.2 C837.43,847.22 839.9,847.35 846.1,850.2 C852.3,853.05 863.78,859.52 870.3,862.3 C876.82,865.08 874.98,864.12 885.2,866.9 C895.42,869.68 916.12,875.12 931.6,879 C947.08,882.88 963.22,887.1 978.1,890.2 C992.98,893.3 1009.75,895.6 1020.9,897.6 C1032.05,899.6 1036.02,901.22 1045,902.2 C1053.98,903.18 1060.52,903.08 1074.8,903.5 C1089.08,903.92 1118.28,903.98 1130.7,904.7 C1143.12,905.42 1139.38,905.73 1149.3,907.8 C1159.22,909.87 1178.12,914.47 1190.2,917.1 C1202.28,919.73 1211.58,920.65 1221.8,923.6 C1232.02,926.55 1239.73,931.85 1251.5,934.8 C1263.27,937.75 1280.93,940.37 1292.4,941.3 C1303.87,942.23 1307.43,941.33 1320.3,940.4 C1333.17,939.47 1361.38,936.48 1369.6,935.7" fill="none" stroke="#fff" stroke-width="1.6"/>
<path d="M752.6,702.1H761.1M752.6,880.1H761.1M752.6,1058.2H761.1M764.9,1138.4V1147.3M916.2,1138.4V1147.3M1067.5,1138.4V1147.3M1218.7,1138.4V1147.3M1370,1138.4V1147.3" stroke="#333" stroke-width="3.2"/>
<text x="747.2" y="709.8" font-size="20" fill="#4d4d4d" font-family="'Liberation Sans', Arial, Helvetica, sans-serif" text-anchor="end" letter-spacing="1.6">25</text>
<text x="747.2" y="887.8" font-size="20" fill="#4d4d4d" font-family="'Liberation Sans', Arial, Helvetica, sans-serif" text-anchor="end" letter-spacing="1.6">20</text>
<text x="747.2" y="1065.9" font-size="20" fill="#4d4d4d" font-family="'Liberation Sans', Arial, Helvetica, sans-serif" text-anchor="end" letter-spacing="1.6">15</text>
<text x="765.9" y="1169.8" font-size="20" fill="#4d4d4d" font-family="'Liberation Sans', Arial, Helvetica, sans-serif" text-anchor="end" letter-spacing="1.0">200</text>
<text x="917.2" y="1169.8" font-size="20" fill="#4d4d4d" font-family="'Liberation Sans', Arial, Helvetica, sans-serif" text-anchor="end" letter-spacing="1.0">400</text>
<text x="1068.5" y="1169.8" font-size="20" fill="#4d4d4d" font-family="'Liberation Sans', Arial, Helvetica, sans-serif" text-anchor="end" letter-spacing="1.0">600</text>
<text x="1219.7" y="1169.8" font-size="20" fill="#4d4d4d" font-family="'Liberation Sans', Arial, Helvetica, sans-serif" text-anchor="end" letter-spacing="1.0">800</text>
<text x="1371" y="1169.8" font-size="20" fill="#4d4d4d" font-family="'Liberation Sans', Arial, Helvetica, sans-serif" text-anchor="end" letter-spacing="1.0">1000</text>
<text x="1066.5" y="1206.3" font-size="27" fill="#111" font-family="'Liberation Sans', Arial, Helvetica, sans-serif" text-anchor="middle">Number of loci</text>
<text x="0" y="0" font-size="26.95" fill="#111" font-family="'Liberation Sans', Arial, Helvetica, sans-serif" text-anchor="middle" transform="translate(704.6,915) rotate(-90)">Number of references</text>
<rect x="816.1" y="1224.4" width="27.88" height="26.7" fill="#fcfbbd"/><rect x="842.78" y="1224.4" width="27.88" height="26.7" fill="#fcf4b6"/><rect x="869.47" y="1224.4" width="27.88" height="26.7" fill="#fcecae"/><rect x="896.15" y="1224.4" width="27.88" height="26.7" fill="#fde5a7"/><rect x="922.84" y="1224.4" width="27.88" height="25.3" fill="#fddea0"/><rect x="949.52" y="1224.4" width="27.88" height="25.3" fill="#fed597"/><rect x="976.21" y="1224.4" width="27.88" height="25.3" fill="#fecd90"/><rect x="1002.89" y="1224.4" width="27.88" height="25.3" fill="#fec68a"/><rect x="1029.58" y="1224.4" width="27.88" height="25.3" fill="#febf84"/><rect x="1056.26" y="1224.4" width="27.88" height="25.3" fill="#feb77e"/><rect x="1082.95" y="1224.4" width="27.88" height="25.3" fill="#feb078"/><rect x="1109.63" y="1224.4" width="27.88" height="25.3" fill="#fea973"/><rect x="1136.32" y="1224.4" width="27.88" height="25.3" fill="#fea16e"/><rect x="1163" y="1224.4" width="27.88" height="25.3" fill="#fd9a6a"/><rect x="1189.69" y="1224.4" width="27.88" height="25.3" fill="#f9795d"/><rect x="1216.38" y="1224.4" width="27.88" height="25.3" fill="#e44f64"/><rect x="1243.06" y="1224.4" width="27.88" height="25.3" fill="#c23b75"/><rect x="1269.74" y="1224.4" width="27.88" height="25.3" fill="#8c2981"/><rect x="1296.43" y="1224.4" width="27.88" height="25.3" fill="#3b0f70"/><rect x="1323.12" y="1224.4" width="26.68" height="25.3" fill="#140e36"/><path d="M955.5,1224.4V1229.6M955.5,1243.6V1249.7M1077.1,1224.4V1229.6M1077.1,1243.6V1249.7M1200.6,1224.4V1229.6M1200.6,1243.6V1249.7M1262.3,1224.4V1229.6M1262.3,1243.6V1249.7M1298.7,1224.4V1229.6M1298.7,1243.6V1249.7M1330.1,1224.4V1229.6M1330.1,1243.6V1249.7" stroke="#fff" stroke-width="1.6"/>
<text x="743.5" y="1263.4" font-size="21.6" fill="#111" font-family="'Liberation Sans', Arial, Helvetica, sans-serif">Power</text>
<text x="954.3" y="1273" font-size="19" fill="#4d4d4d" font-family="'Liberation Sans', Arial, Helvetica, sans-serif" text-anchor="middle" letter-spacing="0.8">70%</text>
<text x="1076.5" y="1273" font-size="19" fill="#4d4d4d" font-family="'Liberation Sans', Arial, Helvetica, sans-serif" text-anchor="middle" letter-spacing="0.8">80%</text>
<text x="1198.1" y="1273" font-size="19" fill="#4d4d4d" font-family="'Liberation Sans', Arial, Helvetica, sans-serif" text-anchor="middle" letter-spacing="0.8">90%</text>
<text x="1264.2" y="1273" font-size="19" fill="#4d4d4d" font-family="'Liberation Sans', Arial, Helvetica, sans-serif" text-anchor="middle" letter-spacing="0.8">95%</text>
<text x="1303.8" y="1273" font-size="19" fill="#4d4d4d" font-family="'Liberation Sans', Arial, Helvetica, sans-serif" text-anchor="middle" letter-spacing="0.8">98%</text>
<text x="1343.5" y="1273" font-size="19" fill="#4d4d4d" font-family="'Liberation Sans', Arial, Helvetica, sans-serif" text-anchor="middle" letter-spacing="0.8">99%</text>
<text x="1406.3" y="690.3" font-size="50" fill="#000" font-family="'Liberation Sans', Arial, Helvetica, sans-serif" font-weight="bold">f</text>
<path d="M1502.6,701.6 V1161.6 H1918.3" fill="none" stroke="#000" stroke-width="2"/><path d="M1489.5,1144.3H1502.6M1489.5,1057.88H1502.6M1489.5,971.46H1502.6M1489.5,885.04H1502.6M1489.5,798.62H1502.6M1489.5,712.2H1502.6M1621.4,1161.6V1173.3M1795.9,1161.6V1173.3" stroke="#000" stroke-width="1.8"/>
<text x="0" y="0" font-size="18.5" fill="#000" font-family="'Liberation Sans', Arial, Helvetica, sans-serif" text-anchor="middle" transform="translate(1482.8,1144.3) rotate(-90)">0</text>
<text x="0" y="0" font-size="18.5" fill="#000" font-family="'Liberation Sans', Arial, Helvetica, sans-serif" text-anchor="middle" transform="translate(1482.8,1057.88) rotate(-90)">20</text>
<text x="0" y="0" font-size="18.5" fill="#000" font-family="'Liberation Sans', Arial, Helvetica, sans-serif" text-anchor="middle" transform="translate(1482.8,971.46) rotate(-90)">40</text>
<text x="0" y="0" font-size="18.5" fill="#000" font-family="'Liberation Sans', Arial, Helvetica, sans-serif" text-anchor="middle" transform="translate(1482.8,885.04) rotate(-90)">60</text>
<text x="0" y="0" font-size="18.5" fill="#000" font-family="'Liberation Sans', Arial, Helvetica, sans-serif" text-anchor="middle" transform="translate(1482.8,798.62) rotate(-90)">80</text>
<text x="0" y="0" font-size="18.5" fill="#000" font-family="'Liberation Sans', Arial, Helvetica, sans-serif" text-anchor="middle" transform="translate(1482.8,712.2) rotate(-90)">100</text>
<text transform="translate(1446.2,957) rotate(-90)" font-family="'Liberation Sans', Arial, Helvetica, sans-serif" font-size="33" fill="#000">- log<tspan font-size="17.5">10</tspan> <tspan font-family="'DejaVu Serif', serif" font-style="italic" font-weight="bold" font-size="36.5">p</tspan></text>
<line x1="1501.6" y1="1109.9" x2="1874" y2="1109.9" stroke="#ee2222" stroke-width="1.9" stroke-dasharray="10.9,13.2"/>
<g fill="#6b6b6b"><rect x="1607" y="1137" width="32.3" height="14.2" rx="5"/><circle cx="1615.5" cy="1138.5" r="7.8"/><circle cx="1621.5" cy="1132.2" r="6.3"/><circle cx="1629.5" cy="1136.5" r="7.6"/><circle cx="1633.8" cy="1142.5" r="5.6"/><circle cx="1611.5" cy="1143" r="5"/></g>
<g fill="none" stroke="#f5450f" stroke-width="2.4"><circle cx="1791.8" cy="719.1" r="5.1"/><circle cx="1805.4" cy="754.9" r="5.1"/><circle cx="1803.7" cy="820.1" r="5.1"/><circle cx="1812.6" cy="830.2" r="5.1"/><circle cx="1806.4" cy="830.2" r="5.1"/><circle cx="1801" cy="829.4" r="5.1"/><circle cx="1795.6" cy="835.6" r="5.1"/><circle cx="1819.6" cy="846.7" r="5.1"/><circle cx="1794.1" cy="848" r="5.1"/><circle cx="1799.5" cy="848" r="5.1"/><circle cx="1802.6" cy="860.4" r="5.1"/><circle cx="1799.5" cy="865" r="5.1"/><circle cx="1804.9" cy="868.1" r="5.1"/><circle cx="1789.4" cy="875.4" r="5.1"/><circle cx="1807.2" cy="875.9" r="5.1"/><circle cx="1798.7" cy="882" r="5.1"/><circle cx="1801" cy="888.2" r="5.1"/><circle cx="1797.2" cy="892.9" r="5.1"/><circle cx="1813.4" cy="894.1" r="5.1"/><circle cx="1833.5" cy="901.4" r="5.1"/><circle cx="1806.4" cy="899.1" r="5.1"/><circle cx="1797.9" cy="900.6" r="5.1"/><circle cx="1790.2" cy="911.1" r="5.1"/><circle cx="1803.3" cy="908.4" r="5.1"/><circle cx="1795.6" cy="917.6" r="5.1"/><circle cx="1815.7" cy="917.6" r="5.1"/><circle cx="1815.7" cy="920.7" r="5.1"/><circle cx="1806.4" cy="916.1" r="5.1"/><circle cx="1802.6" cy="922.3" r="5.1"/><circle cx="1808" cy="926.9" r="5.1"/><circle cx="1791.7" cy="931.6" r="5.1"/><circle cx="1804.9" cy="933.1" r="5.1"/><circle cx="1812.6" cy="937" r="5.1"/><circle cx="1791" cy="943.2" r="5.1"/><circle cx="1800.2" cy="947.8" r="5.1"/><circle cx="1813.4" cy="951.4" r="5.1"/><circle cx="1800.2" cy="954.8" r="5.1"/><circle cx="1815.7" cy="961" r="5.1"/><circle cx="1801" cy="959.4" r="5.1"/><circle cx="1801.8" cy="964.1" r="5.1"/><circle cx="1806.4" cy="967.2" r="5.1"/><circle cx="1812.6" cy="993.5" r="5.1"/><circle cx="1803" cy="905" r="5.1"/><circle cx="1800" cy="913" r="5.1"/><circle cx="1807" cy="911" r="5.1"/><circle cx="1798" cy="920" r="5.1"/><circle cx="1805" cy="923" r="5.1"/><circle cx="1800" cy="927" r="5.1"/><circle cx="1808" cy="931" r="5.1"/><circle cx="1801" cy="862" r="5.1"/><circle cx="1803" cy="866" r="5.1"/><circle cx="1798" cy="868" r="5.1"/><circle cx="1799" cy="885" r="5.1"/><circle cx="1800" cy="890" r="5.1"/><circle cx="1798" cy="895" r="5.1"/><circle cx="1802" cy="887" r="5.1"/><circle cx="1800" cy="910" r="5.1"/><circle cx="1804" cy="914" r="5.1"/><circle cx="1802" cy="918" r="5.1"/><circle cx="1806" cy="921" r="5.1"/><circle cx="1800" cy="924" r="5.1"/><circle cx="1804" cy="928" r="5.1"/><circle cx="1807" cy="931" r="5.1"/><circle cx="1803" cy="935" r="5.1"/><circle cx="1813" cy="919" r="5.1"/><circle cx="1799" cy="903" r="5.1"/><circle cx="1796" cy="888" r="5.1"/></g>
<text x="0" y="0" font-size="29.2" fill="#000" font-family="'Liberation Sans', Arial, Helvetica, sans-serif" text-anchor="end" transform="translate(1643.5,1193.5) rotate(-30)">Unrelated</text>
<text x="0" y="0" font-size="29.2" fill="#000" font-family="'Liberation Sans', Arial, Helvetica, sans-serif" transform="translate(1717.3,1258.4) rotate(-30)">Overlapping</text>
<text x="0" y="0" font-size="29.2" fill="#000" font-family="'Liberation Sans', Arial, Helvetica, sans-serif" transform="translate(1735.2,1288.2) rotate(-30)">samples</text>
</svg>
</body></html>
